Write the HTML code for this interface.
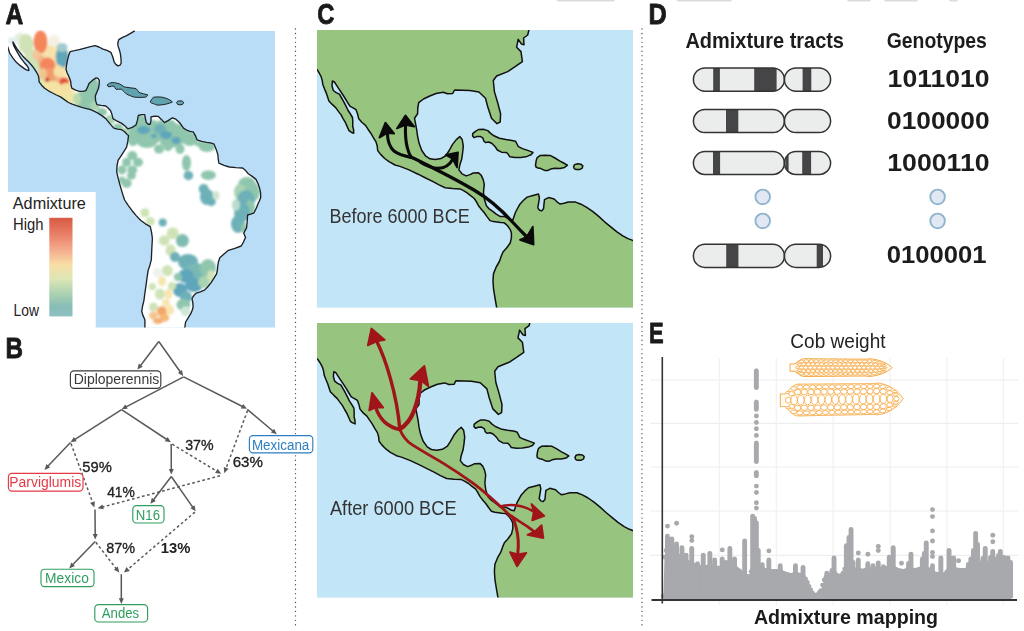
<!DOCTYPE html>
<html><head><meta charset="utf-8"><title>Figure</title>
<style>
html,body{margin:0;padding:0;background:#fff;-webkit-font-smoothing:antialiased;}
body{width:1024px;height:631px;overflow:hidden;font-family:"Liberation Sans",sans-serif;}
svg{display:block;}
text{font-family:"Liberation Sans",sans-serif;}
</style></head><body>
<svg width="1024" height="631" viewBox="0 0 1024 631">
<rect x="0" y="0" width="1024" height="631" fill="#ffffff"/>
<g opacity="0.9999">
<!-- p_frames -->
<rect x="556.5" y="-3" width="58.5" height="4.6" rx="2.5" fill="#d9dbdc"/>
<rect x="676.5" y="-3" width="55.5" height="4.6" rx="2.5" fill="#d9dbdc"/>
<rect x="847.0" y="-3" width="24.0" height="4.6" rx="2.5" fill="#d9dbdc"/>
<rect x="884.0" y="-3" width="34.0" height="4.6" rx="2.5" fill="#d9dbdc"/>
<rect x="949.0" y="-3" width="9.0" height="4.6" rx="2.5" fill="#d9dbdc"/>
<line x1="295.5" y1="29" x2="295.5" y2="625.5" stroke="#4a4a4a" stroke-width="1.35" stroke-linecap="round" stroke-dasharray="0.01 4.436"/>
<line x1="642.0" y1="29" x2="642.0" y2="625.5" stroke="#4a4a4a" stroke-width="1.35" stroke-linecap="round" stroke-dasharray="0.01 4.436"/>
<text transform="translate(5.41,23.80) scale(0.8384,1)" font-size="29.40" font-weight="bold" fill="#1a1a1a" stroke="#1a1a1a" stroke-width="0.85" stroke-linejoin="round">A</text>
<text transform="translate(5.54,358.30) scale(0.8222,1)" font-size="29.40" font-weight="bold" fill="#1a1a1a" stroke="#1a1a1a" stroke-width="0.85" stroke-linejoin="round">B</text>
<text transform="translate(317.13,24.20) scale(0.8083,1)" font-size="29.40" font-weight="bold" fill="#1a1a1a" stroke="#1a1a1a" stroke-width="0.85" stroke-linejoin="round">C</text>
<text transform="translate(648.56,24.10) scale(0.8619,1)" font-size="29.40" font-weight="bold" fill="#1a1a1a" stroke="#1a1a1a" stroke-width="0.85" stroke-linejoin="round">D</text>
<text transform="translate(648.98,343.20) scale(0.7470,1)" font-size="29.40" font-weight="bold" fill="#1a1a1a" stroke="#1a1a1a" stroke-width="0.85" stroke-linejoin="round">E</text>

<!-- p_a -->
<defs><clipPath id="ca"><rect x="8" y="25" width="267" height="302.5"/></clipPath>
<clipPath id="cland"><path d="M7.0,30.0 L134.7,30.0 L134.7,30.9 L130.5,33.4 L126.7,35.6 L122.6,37.4 L118.8,39.6 L117.8,42.8 L118.0,45.9 L119.4,50.0 L120.4,53.9 L121.0,58.6 L121.2,63.0 L120.0,65.2 L118.0,65.9 L115.8,64.4 L114.1,61.8 L112.8,57.0 L110.9,52.3 L107.0,50.4 L103.0,49.1 L99.0,47.0 L95.0,45.6 L89.5,46.8 L84.0,48.3 L79.2,49.6 L74.5,50.7 L70.2,51.6 L68.6,55.6 L67.6,59.7 L66.6,64.5 L66.0,69.2 L67.0,72.5 L68.4,75.5 L69.8,78.8 L70.8,81.9 L71.0,85.2 L71.8,88.2 L75.5,90.2 L79.5,91.4 L82.8,91.4 L85.8,90.6 L87.6,87.0 L89.0,83.5 L92.4,80.4 L96.1,77.9 L98.0,78.4 L99.3,80.3 L99.2,84.2 L98.5,88.2 L96.8,92.2 L95.3,96.1 L95.6,100.6 L96.9,104.6 L101.0,105.4 L105.8,106.0 L108.4,108.2 L110.6,110.7 L112.0,114.6 L113.0,118.6 L117.2,121.2 L121.7,123.4 L125.0,126.0 L128.0,128.9 L132.2,127.4 L136.0,125.0 L137.4,120.4 L138.3,115.5 L141.5,114.6 L144.7,114.7 L145.4,118.6 L146.3,122.6 L148.2,124.2 L150.2,124.2 L151.0,120.6 L151.0,117.0 L154.5,116.2 L158.1,116.3 L161.4,119.4 L164.5,122.6 L168.5,120.4 L172.4,117.8 L175.8,119.2 L178.7,121.8 L181.2,124.8 L183.5,128.1 L186.8,130.2 L190.0,131.3 L193.2,131.8 L195.4,135.6 L197.0,139.8 L201.6,141.4 L206.5,142.3 L210.4,142.8 L214.1,144.2 L216.2,149.4 L217.9,154.7 L218.2,159.0 L218.9,163.2 L224.0,165.4 L229.3,167.0 L236.0,167.6 L242.6,168.0 L245.6,170.6 L248.3,173.7 L252.2,176.4 L256.0,179.4 L258.2,184.0 L259.8,188.9 L260.6,193.2 L260.7,197.5 L259.4,201.0 L258.3,203.0 L256.4,208.0 L254.0,212.8 L250.8,214.2 L247.6,215.0 L247.2,221.4 L246.6,227.8 L245.0,230.6 L243.8,233.2 L245.5,237.4 L243.6,241.8 L241.2,246.0 L234.8,248.4 L228.4,250.3 L224.0,254.0 L219.8,257.8 L218.4,262.0 L217.7,266.3 L217.4,270.0 L216.6,273.8 L214.0,278.2 L211.3,282.4 L208.2,286.2 L204.8,289.9 L200.4,291.8 L196.3,293.1 L193.8,295.6 L192.0,298.4 L192.8,302.6 L193.1,307.0 L192.2,310.2 L190.9,313.4 L188.2,317.8 L185.6,322.0 L184.6,329.0 L144.9,329.0 L144.9,319.8 L143.0,315.6 L141.7,311.3 L142.6,306.0 L143.9,300.6 L144.9,293.0 L146.0,285.6 L147.0,278.0 L148.1,270.6 L149.9,265.2 L151.3,259.9 L151.8,249.0 L152.4,238.5 L151.6,232.6 L150.3,226.7 L145.4,223.8 L140.6,220.3 L136.2,215.6 L132.1,210.7 L128.2,205.4 L124.6,200.0 L122.2,192.6 L120.0,185.1 L118.2,178.4 L116.7,171.8 L117.0,166.0 L118.1,160.4 L122.4,153.8 L126.6,147.1 L127.8,141.4 L128.5,135.6 L127.2,134.5 L124.6,131.8 L121.7,129.7 L117.6,129.2 L113.8,128.1 L109.6,123.4 L105.8,118.6 L101.8,115.6 L97.9,113.1 L94.0,111.2 L90.0,109.4 L87.4,108.8 L81.8,107.4 L76.3,105.7 L72.2,104.2 L68.4,102.5 L64.4,99.6 L60.5,96.9 L56.4,95.0 L52.5,93.0 L48.4,90.8 L44.6,88.2 L41.6,85.2 L39.1,81.9 L38.9,78.6 L38.3,75.5 L36.0,71.4 L33.5,67.6 L31.2,64.8 L28.8,62.1 L25.6,59.0 L22.4,55.7 L19.6,52.2 L16.9,48.6 L14.8,45.2 L12.9,41.9 L13.6,45.4 L15.3,48.6 L18.0,53.4 L20.8,58.1 L24.0,62.2 L27.2,66.0 L28.6,68.4 L28.8,70.5 L26.4,69.8 L24.0,68.4 L20.0,65.4 L16.1,62.1 L12.8,57.8 L9.8,53.4 L8.4,49.0 L7.0,44.6 Z"/><path d="M107.4,84.6 L109.6,83.2 L112.2,82.5 L115.8,82.9 L119.3,83.8 L121.8,85.2 L124.1,86.9 L130.0,87.8 L136.0,88.5 L137.6,90.4 L139.1,92.5 L143.4,93.8 L147.8,94.9 L146.8,96.4 L145.5,97.2 L140.0,97.4 L134.4,97.2 L130.4,95.8 L126.5,94.1 L124.0,91.6 L121.7,89.3 L118.8,89.2 L116.1,89.3 L114.8,87.6 L113.8,86.1 L111.4,86.2 L109.0,86.9 L107.6,86.0 Z"/><path d="M150.2,102.0 L151.6,99.4 L153.4,97.2 L157.8,96.9 L162.1,97.2 L165.8,98.2 L169.2,99.6 L171.0,100.8 L172.4,102.0 L169.4,103.2 L166.1,104.1 L162.0,104.8 L158.1,105.2 L155.6,104.6 L153.4,103.6 L151.4,103.0 Z"/><path d="M176.6,102.8 L177.6,101.2 L180.0,100.8 L182.6,101.2 L183.6,102.8 L182.6,104.4 L180.0,104.9 L177.6,104.4 Z"/></clipPath>
<filter id="bl" x="-20%" y="-20%" width="140%" height="140%"><feGaussianBlur stdDeviation="0.9"/></filter></defs>
<rect x="8" y="31" width="267" height="296.5" fill="#b9ddf6"/>
<g clip-path="url(#ca)">
<path d="M7.0,30.0 L134.7,30.0 L134.7,30.9 L130.5,33.4 L126.7,35.6 L122.6,37.4 L118.8,39.6 L117.8,42.8 L118.0,45.9 L119.4,50.0 L120.4,53.9 L121.0,58.6 L121.2,63.0 L120.0,65.2 L118.0,65.9 L115.8,64.4 L114.1,61.8 L112.8,57.0 L110.9,52.3 L107.0,50.4 L103.0,49.1 L99.0,47.0 L95.0,45.6 L89.5,46.8 L84.0,48.3 L79.2,49.6 L74.5,50.7 L70.2,51.6 L68.6,55.6 L67.6,59.7 L66.6,64.5 L66.0,69.2 L67.0,72.5 L68.4,75.5 L69.8,78.8 L70.8,81.9 L71.0,85.2 L71.8,88.2 L75.5,90.2 L79.5,91.4 L82.8,91.4 L85.8,90.6 L87.6,87.0 L89.0,83.5 L92.4,80.4 L96.1,77.9 L98.0,78.4 L99.3,80.3 L99.2,84.2 L98.5,88.2 L96.8,92.2 L95.3,96.1 L95.6,100.6 L96.9,104.6 L101.0,105.4 L105.8,106.0 L108.4,108.2 L110.6,110.7 L112.0,114.6 L113.0,118.6 L117.2,121.2 L121.7,123.4 L125.0,126.0 L128.0,128.9 L132.2,127.4 L136.0,125.0 L137.4,120.4 L138.3,115.5 L141.5,114.6 L144.7,114.7 L145.4,118.6 L146.3,122.6 L148.2,124.2 L150.2,124.2 L151.0,120.6 L151.0,117.0 L154.5,116.2 L158.1,116.3 L161.4,119.4 L164.5,122.6 L168.5,120.4 L172.4,117.8 L175.8,119.2 L178.7,121.8 L181.2,124.8 L183.5,128.1 L186.8,130.2 L190.0,131.3 L193.2,131.8 L195.4,135.6 L197.0,139.8 L201.6,141.4 L206.5,142.3 L210.4,142.8 L214.1,144.2 L216.2,149.4 L217.9,154.7 L218.2,159.0 L218.9,163.2 L224.0,165.4 L229.3,167.0 L236.0,167.6 L242.6,168.0 L245.6,170.6 L248.3,173.7 L252.2,176.4 L256.0,179.4 L258.2,184.0 L259.8,188.9 L260.6,193.2 L260.7,197.5 L259.4,201.0 L258.3,203.0 L256.4,208.0 L254.0,212.8 L250.8,214.2 L247.6,215.0 L247.2,221.4 L246.6,227.8 L245.0,230.6 L243.8,233.2 L245.5,237.4 L243.6,241.8 L241.2,246.0 L234.8,248.4 L228.4,250.3 L224.0,254.0 L219.8,257.8 L218.4,262.0 L217.7,266.3 L217.4,270.0 L216.6,273.8 L214.0,278.2 L211.3,282.4 L208.2,286.2 L204.8,289.9 L200.4,291.8 L196.3,293.1 L193.8,295.6 L192.0,298.4 L192.8,302.6 L193.1,307.0 L192.2,310.2 L190.9,313.4 L188.2,317.8 L185.6,322.0 L184.6,329.0 L144.9,329.0 L144.9,319.8 L143.0,315.6 L141.7,311.3 L142.6,306.0 L143.9,300.6 L144.9,293.0 L146.0,285.6 L147.0,278.0 L148.1,270.6 L149.9,265.2 L151.3,259.9 L151.8,249.0 L152.4,238.5 L151.6,232.6 L150.3,226.7 L145.4,223.8 L140.6,220.3 L136.2,215.6 L132.1,210.7 L128.2,205.4 L124.6,200.0 L122.2,192.6 L120.0,185.1 L118.2,178.4 L116.7,171.8 L117.0,166.0 L118.1,160.4 L122.4,153.8 L126.6,147.1 L127.8,141.4 L128.5,135.6 L127.2,134.5 L124.6,131.8 L121.7,129.7 L117.6,129.2 L113.8,128.1 L109.6,123.4 L105.8,118.6 L101.8,115.6 L97.9,113.1 L94.0,111.2 L90.0,109.4 L87.4,108.8 L81.8,107.4 L76.3,105.7 L72.2,104.2 L68.4,102.5 L64.4,99.6 L60.5,96.9 L56.4,95.0 L52.5,93.0 L48.4,90.8 L44.6,88.2 L41.6,85.2 L39.1,81.9 L38.9,78.6 L38.3,75.5 L36.0,71.4 L33.5,67.6 L31.2,64.8 L28.8,62.1 L25.6,59.0 L22.4,55.7 L19.6,52.2 L16.9,48.6 L14.8,45.2 L12.9,41.9 L13.6,45.4 L15.3,48.6 L18.0,53.4 L20.8,58.1 L24.0,62.2 L27.2,66.0 L28.6,68.4 L28.8,70.5 L26.4,69.8 L24.0,68.4 L20.0,65.4 L16.1,62.1 L12.8,57.8 L9.8,53.4 L8.4,49.0 L7.0,44.6 Z" fill="#fff"/>
<path d="M107.4,84.6 L109.6,83.2 L112.2,82.5 L115.8,82.9 L119.3,83.8 L121.8,85.2 L124.1,86.9 L130.0,87.8 L136.0,88.5 L137.6,90.4 L139.1,92.5 L143.4,93.8 L147.8,94.9 L146.8,96.4 L145.5,97.2 L140.0,97.4 L134.4,97.2 L130.4,95.8 L126.5,94.1 L124.0,91.6 L121.7,89.3 L118.8,89.2 L116.1,89.3 L114.8,87.6 L113.8,86.1 L111.4,86.2 L109.0,86.9 L107.6,86.0 Z" fill="#fff"/>
<path d="M150.2,102.0 L151.6,99.4 L153.4,97.2 L157.8,96.9 L162.1,97.2 L165.8,98.2 L169.2,99.6 L171.0,100.8 L172.4,102.0 L169.4,103.2 L166.1,104.1 L162.0,104.8 L158.1,105.2 L155.6,104.6 L153.4,103.6 L151.4,103.0 Z" fill="#fff"/>
<path d="M176.6,102.8 L177.6,101.2 L180.0,100.8 L182.6,101.2 L183.6,102.8 L182.6,104.4 L180.0,104.9 L177.6,104.4 Z" fill="#fff"/>
<path d="M107.4,84.6 L109.6,83.2 L112.2,82.5 L115.8,82.9 L119.3,83.8 L121.8,85.2 L124.1,86.9 L130.0,87.8 L136.0,88.5 L137.6,90.4 L139.1,92.5 L143.4,93.8 L147.8,94.9 L146.8,96.4 L145.5,97.2 L140.0,97.4 L134.4,97.2 L130.4,95.8 L126.5,94.1 L124.0,91.6 L121.7,89.3 L118.8,89.2 L116.1,89.3 L114.8,87.6 L113.8,86.1 L111.4,86.2 L109.0,86.9 L107.6,86.0 Z" fill="#5fa3b0"/><path d="M150.2,102.0 L151.6,99.4 L153.4,97.2 L157.8,96.9 L162.1,97.2 L165.8,98.2 L169.2,99.6 L171.0,100.8 L172.4,102.0 L169.4,103.2 L166.1,104.1 L162.0,104.8 L158.1,105.2 L155.6,104.6 L153.4,103.6 L151.4,103.0 Z" fill="#5fa3b0"/><path d="M176.6,102.8 L177.6,101.2 L180.0,100.8 L182.6,101.2 L183.6,102.8 L182.6,104.4 L180.0,104.9 L177.6,104.4 Z" fill="#64a6b2"/>
<g clip-path="url(#cland)"><g filter="url(#bl)">
<ellipse cx="56.0" cy="76.0" rx="21.0" ry="30.0" fill="#f7e5b0"/>
<ellipse cx="46.0" cy="52.0" rx="10.0" ry="8.0" fill="#f7e9c4"/>
<ellipse cx="13.0" cy="41.0" rx="6.0" ry="4.0" fill="#e6efef"/>
<ellipse cx="20.0" cy="37.0" rx="5.0" ry="4.0" fill="#e4eedd"/>
<ellipse cx="26.0" cy="44.0" rx="7.5" ry="10.0" fill="#cfe3b6"/>
<ellipse cx="30.5" cy="56.0" rx="6.0" ry="8.0" fill="#cfe3b6"/>
<ellipse cx="35.0" cy="65.0" rx="5.0" ry="7.0" fill="#cfe3b6"/>
<ellipse cx="39.5" cy="74.0" rx="4.0" ry="6.0" fill="#cfe3b6"/>
<ellipse cx="42.0" cy="82.0" rx="3.5" ry="4.0" fill="#dfe6b0"/>
<ellipse cx="54.0" cy="41.0" rx="6.0" ry="6.0" fill="#f6f0e4"/>
<ellipse cx="49.5" cy="56.0" rx="7.5" ry="10.5" fill="#f8e2ab"/>
<ellipse cx="40.5" cy="42.0" rx="7.0" ry="11.5" fill="#f4865c"/>
<ellipse cx="36.2" cy="55.0" rx="4.2" ry="4.5" fill="#f2c79b"/>
<ellipse cx="41.0" cy="60.0" rx="4.0" ry="5.0" fill="#f0b98c"/>
<ellipse cx="62.0" cy="57.0" rx="6.3" ry="11.0" fill="#5fa6bb"/>
<ellipse cx="62.0" cy="47.5" rx="5.5" ry="4.5" fill="#a3cbd0"/>
<ellipse cx="47.5" cy="66.0" rx="8.0" ry="8.5" fill="#f4865c"/>
<ellipse cx="50.5" cy="73.5" rx="6.0" ry="6.0" fill="#f39a6c"/>
<ellipse cx="43.0" cy="74.0" rx="4.0" ry="6.0" fill="#f1c58f"/>
<ellipse cx="58.5" cy="71.5" rx="5.0" ry="6.5" fill="#f8dfa6"/>
<ellipse cx="63.6" cy="81.4" rx="5.4" ry="3.8" fill="#e4573b"/>
<ellipse cx="47.8" cy="80.0" rx="2.8" ry="2.5" fill="#c9472f"/>
<ellipse cx="56.0" cy="80.0" rx="4.0" ry="4.0" fill="#f3b583"/>
<ellipse cx="52.0" cy="79.0" rx="3.0" ry="3.0" fill="#f0a070"/>
<ellipse cx="52.0" cy="88.0" rx="10.0" ry="7.0" fill="#f5e3a4"/>
<ellipse cx="63.0" cy="93.0" rx="9.0" ry="6.5" fill="#f5e3a4"/>
<ellipse cx="72.0" cy="98.0" rx="7.0" ry="6.0" fill="#eee6a9"/>
<ellipse cx="66.0" cy="87.0" rx="5.0" ry="4.0" fill="#f6dfa0"/>
<ellipse cx="83.0" cy="100.0" rx="9.0" ry="9.0" fill="#8fc6ad"/>
<ellipse cx="92.0" cy="90.0" rx="8.0" ry="13.0" fill="#8fc6ad"/>
<ellipse cx="86.0" cy="108.0" rx="7.0" ry="4.0" fill="#8fc6ad"/>
<ellipse cx="95.0" cy="106.0" rx="5.0" ry="5.0" fill="#a9d3b2"/>
<ellipse cx="77.0" cy="99.0" rx="4.0" ry="6.0" fill="#bcd9ae"/>
<ellipse cx="102.0" cy="112.0" rx="5.0" ry="4.0" fill="#8fc6ad"/>
<ellipse cx="110.0" cy="120.0" rx="5.0" ry="5.0" fill="#a9d3b2"/>
<ellipse cx="118.0" cy="127.0" rx="5.0" ry="3.5" fill="#8fc6ad"/>
<ellipse cx="125.0" cy="131.0" rx="4.0" ry="3.0" fill="#a9d3b2"/>
<ellipse cx="140.0" cy="128.0" rx="11.0" ry="13.0" fill="#8fc6ad"/>
<ellipse cx="152.0" cy="132.0" rx="12.0" ry="12.0" fill="#8fc6ad"/>
<ellipse cx="166.0" cy="130.0" rx="13.0" ry="11.0" fill="#8fc6ad"/>
<ellipse cx="180.0" cy="134.0" rx="12.0" ry="10.0" fill="#8fc6ad"/>
<ellipse cx="190.0" cy="139.0" rx="8.0" ry="7.0" fill="#8fc6ad"/>
<ellipse cx="133.0" cy="138.0" rx="6.0" ry="8.0" fill="#8fc6ad"/>
<ellipse cx="147.0" cy="142.0" rx="10.0" ry="6.0" fill="#8fc6ad"/>
<ellipse cx="170.0" cy="142.0" rx="10.0" ry="6.0" fill="#8fc6ad"/>
<ellipse cx="143.7" cy="130.0" rx="6.6" ry="4.0" fill="#5fa6bb"/>
<ellipse cx="160.0" cy="129.0" rx="6.0" ry="5.0" fill="#6db0b8"/>
<ellipse cx="166.0" cy="135.0" rx="6.0" ry="4.0" fill="#5fa6bb"/>
<ellipse cx="176.0" cy="140.4" rx="4.5" ry="3.5" fill="#5fa6bb"/>
<ellipse cx="154.0" cy="136.0" rx="3.0" ry="2.0" fill="#5fa6bb"/>
<ellipse cx="159.0" cy="149.0" rx="5.0" ry="4.5" fill="#8fc6ad"/>
<ellipse cx="168.0" cy="147.0" rx="4.0" ry="4.0" fill="#8fc6ad"/>
<ellipse cx="180.0" cy="149.0" rx="4.5" ry="5.0" fill="#8fc6ad"/>
<ellipse cx="207.0" cy="147.0" rx="8.0" ry="5.0" fill="#8fc6ad"/>
<ellipse cx="200.0" cy="144.0" rx="5.0" ry="3.0" fill="#8fc6ad"/>
<ellipse cx="186.5" cy="163.0" rx="4.5" ry="8.0" fill="#8fc6ad"/>
<ellipse cx="188.4" cy="175.6" rx="4.8" ry="4.6" fill="#6db0b8"/>
<ellipse cx="208.4" cy="175.2" rx="7.5" ry="4.8" fill="#8fc6ad"/>
<ellipse cx="132.3" cy="155.6" rx="5.0" ry="4.5" fill="#8fc6ad"/>
<ellipse cx="126.6" cy="162.3" rx="4.5" ry="4.5" fill="#8fc6ad"/>
<ellipse cx="138.0" cy="162.3" rx="5.0" ry="4.5" fill="#8fc6ad"/>
<ellipse cx="132.3" cy="169.9" rx="5.0" ry="4.5" fill="#8fc6ad"/>
<ellipse cx="121.9" cy="169.9" rx="4.5" ry="4.5" fill="#8fc6ad"/>
<ellipse cx="131.4" cy="175.6" rx="4.5" ry="4.0" fill="#8fc6ad"/>
<ellipse cx="126.6" cy="183.2" rx="5.0" ry="4.5" fill="#8fc6ad"/>
<ellipse cx="122.0" cy="180.0" rx="3.5" ry="3.5" fill="#8fc6ad"/>
<ellipse cx="203.7" cy="189.0" rx="5.0" ry="5.0" fill="#6db0b8"/>
<ellipse cx="207.0" cy="197.0" rx="7.0" ry="8.0" fill="#6db0b8"/>
<ellipse cx="216.0" cy="195.5" rx="3.5" ry="4.5" fill="#cfe6d4"/>
<ellipse cx="247.0" cy="185.0" rx="9.0" ry="8.0" fill="#8fc6ad"/>
<ellipse cx="252.0" cy="192.0" rx="8.0" ry="10.0" fill="#8fc6ad"/>
<ellipse cx="240.0" cy="192.0" rx="6.0" ry="8.0" fill="#a9d3b2"/>
<ellipse cx="246.0" cy="200.0" rx="9.0" ry="10.0" fill="#6db0b8"/>
<ellipse cx="250.0" cy="208.0" rx="5.0" ry="8.0" fill="#8fc6ad"/>
<ellipse cx="242.0" cy="212.0" rx="8.0" ry="10.0" fill="#6db0b8"/>
<ellipse cx="238.0" cy="224.0" rx="7.0" ry="9.0" fill="#6db0b8"/>
<ellipse cx="244.0" cy="228.0" rx="3.0" ry="5.0" fill="#8fc6ad"/>
<ellipse cx="236.0" cy="205.0" rx="4.0" ry="6.0" fill="#b9dccb"/>
<ellipse cx="211.3" cy="202.0" rx="4.5" ry="4.0" fill="#6db0b8"/>
<ellipse cx="144.9" cy="212.8" rx="4.5" ry="4.5" fill="#cfe3b6"/>
<ellipse cx="150.3" cy="221.4" rx="4.5" ry="4.5" fill="#cfe3b6"/>
<ellipse cx="162.7" cy="222.5" rx="4.0" ry="4.0" fill="#6db0b8"/>
<ellipse cx="172.7" cy="233.2" rx="6.0" ry="6.0" fill="#cfe3b6"/>
<ellipse cx="164.2" cy="240.6" rx="5.5" ry="5.0" fill="#cfe3b6"/>
<ellipse cx="182.4" cy="240.6" rx="6.5" ry="6.5" fill="#7fbcb0"/>
<ellipse cx="170.6" cy="250.3" rx="5.0" ry="6.0" fill="#cfe3b6"/>
<ellipse cx="175.0" cy="257.0" rx="5.0" ry="5.0" fill="#6db0b8"/>
<ellipse cx="188.0" cy="262.0" rx="10.0" ry="8.0" fill="#6db0b8"/>
<ellipse cx="196.0" cy="272.0" rx="11.0" ry="9.0" fill="#79b9b4"/>
<ellipse cx="208.0" cy="268.0" rx="8.0" ry="9.0" fill="#8fc6ad"/>
<ellipse cx="186.0" cy="276.0" rx="8.0" ry="7.0" fill="#5fa6bb"/>
<ellipse cx="194.0" cy="285.0" rx="9.0" ry="7.0" fill="#5fa6bb"/>
<ellipse cx="180.0" cy="290.0" rx="7.0" ry="7.0" fill="#5fa6bb"/>
<ellipse cx="204.0" cy="282.0" rx="6.0" ry="6.0" fill="#a9d3b2"/>
<ellipse cx="186.0" cy="297.0" rx="6.0" ry="6.0" fill="#6db0b8"/>
<ellipse cx="211.0" cy="276.0" rx="4.0" ry="6.0" fill="#cfe3b6"/>
<ellipse cx="178.0" cy="277.0" rx="4.0" ry="4.0" fill="#8fc6ad"/>
<ellipse cx="183.4" cy="304.8" rx="7.0" ry="6.0" fill="#8fc6ad"/>
<ellipse cx="185.6" cy="311.3" rx="5.0" ry="5.0" fill="#cfe6d8"/>
<ellipse cx="167.4" cy="270.6" rx="5.5" ry="5.5" fill="#cfe3b6"/>
<ellipse cx="157.8" cy="272.7" rx="5.0" ry="5.0" fill="#eef3ee"/>
<ellipse cx="162.0" cy="281.3" rx="4.0" ry="5.0" fill="#f6e6b0"/>
<ellipse cx="152.4" cy="286.6" rx="3.6" ry="3.6" fill="#cfe3b6"/>
<ellipse cx="159.9" cy="294.1" rx="5.0" ry="5.5" fill="#cfe3b6"/>
<ellipse cx="168.5" cy="294.1" rx="4.0" ry="5.0" fill="#f6e6b0"/>
<ellipse cx="172.0" cy="286.0" rx="4.0" ry="4.0" fill="#cfe3b6"/>
<ellipse cx="153.5" cy="307.0" rx="4.5" ry="4.5" fill="#cfe3b6"/>
<ellipse cx="162.0" cy="311.3" rx="5.0" ry="5.0" fill="#f3a66a"/>
<ellipse cx="164.2" cy="317.7" rx="5.0" ry="4.0" fill="#f5b877"/>
<ellipse cx="153.5" cy="315.5" rx="4.5" ry="4.0" fill="#f5c48d"/>
<ellipse cx="158.0" cy="321.0" rx="5.0" ry="3.0" fill="#f3b176"/>
<ellipse cx="170.0" cy="310.0" rx="4.0" ry="5.0" fill="#f6e6b0"/>
<ellipse cx="166.0" cy="303.0" rx="4.0" ry="4.0" fill="#f6e6b0"/>
</g></g>
<g fill="none" stroke="#1d2226" stroke-width="1.35" stroke-linejoin="round">
<path d="M134.7,30.9 L130.5,33.4 L126.7,35.6 L122.6,37.4 L118.8,39.6 L117.8,42.8 L118.0,45.9 L119.4,50.0 L120.4,53.9 L121.0,58.6 L121.2,63.0 L120.0,65.2 L118.0,65.9 L115.8,64.4 L114.1,61.8 L112.8,57.0 L110.9,52.3 L107.0,50.4 L103.0,49.1 L99.0,47.0 L95.0,45.6 L89.5,46.8 L84.0,48.3 L79.2,49.6 L74.5,50.7 L70.2,51.6 L68.6,55.6 L67.6,59.7 L66.6,64.5 L66.0,69.2 L67.0,72.5 L68.4,75.5 L69.8,78.8 L70.8,81.9 L71.0,85.2 L71.8,88.2 L75.5,90.2 L79.5,91.4 L82.8,91.4 L85.8,90.6 L87.6,87.0 L89.0,83.5 L92.4,80.4 L96.1,77.9 L98.0,78.4 L99.3,80.3 L99.2,84.2 L98.5,88.2 L96.8,92.2 L95.3,96.1 L95.6,100.6 L96.9,104.6 L101.0,105.4 L105.8,106.0 L108.4,108.2 L110.6,110.7 L112.0,114.6 L113.0,118.6 L117.2,121.2 L121.7,123.4 L125.0,126.0 L128.0,128.9 L132.2,127.4 L136.0,125.0 L137.4,120.4 L138.3,115.5 L141.5,114.6 L144.7,114.7 L145.4,118.6 L146.3,122.6 L148.2,124.2 L150.2,124.2 L151.0,120.6 L151.0,117.0 L154.5,116.2 L158.1,116.3 L161.4,119.4 L164.5,122.6 L168.5,120.4 L172.4,117.8 L175.8,119.2 L178.7,121.8 L181.2,124.8 L183.5,128.1 L186.8,130.2 L190.0,131.3 L193.2,131.8 L195.4,135.6 L197.0,139.8 L201.6,141.4 L206.5,142.3 L210.4,142.8 L214.1,144.2 L216.2,149.4 L217.9,154.7 L218.2,159.0 L218.9,163.2 L224.0,165.4 L229.3,167.0 L236.0,167.6 L242.6,168.0 L245.6,170.6 L248.3,173.7 L252.2,176.4 L256.0,179.4 L258.2,184.0 L259.8,188.9 L260.6,193.2 L260.7,197.5 L259.4,201.0 L258.3,203.0 L256.4,208.0 L254.0,212.8 L250.8,214.2 L247.6,215.0 L247.2,221.4 L246.6,227.8 L245.0,230.6 L243.8,233.2 L245.5,237.4 L243.6,241.8 L241.2,246.0 L234.8,248.4 L228.4,250.3 L224.0,254.0 L219.8,257.8 L218.4,262.0 L217.7,266.3 L217.4,270.0 L216.6,273.8 L214.0,278.2 L211.3,282.4 L208.2,286.2 L204.8,289.9 L200.4,291.8 L196.3,293.1 L193.8,295.6 L192.0,298.4 L192.8,302.6 L193.1,307.0 L192.2,310.2 L190.9,313.4 L188.2,317.8 L185.6,322.0 L184.6,329.0"/>
<path d="M144.9,329.0 L144.9,319.8 L143.0,315.6 L141.7,311.3 L142.6,306.0 L143.9,300.6 L144.9,293.0 L146.0,285.6 L147.0,278.0 L148.1,270.6 L149.9,265.2 L151.3,259.9 L151.8,249.0 L152.4,238.5 L151.6,232.6 L150.3,226.7 L145.4,223.8 L140.6,220.3 L136.2,215.6 L132.1,210.7 L128.2,205.4 L124.6,200.0 L122.2,192.6 L120.0,185.1 L118.2,178.4 L116.7,171.8 L117.0,166.0 L118.1,160.4 L122.4,153.8 L126.6,147.1 L127.8,141.4 L128.5,135.6 L127.2,134.5 L124.6,131.8 L121.7,129.7 L117.6,129.2 L113.8,128.1 L109.6,123.4 L105.8,118.6 L101.8,115.6 L97.9,113.1 L94.0,111.2 L90.0,109.4 L87.4,108.8 L81.8,107.4 L76.3,105.7 L72.2,104.2 L68.4,102.5 L64.4,99.6 L60.5,96.9 L56.4,95.0 L52.5,93.0 L48.4,90.8 L44.6,88.2 L41.6,85.2 L39.1,81.9 L38.9,78.6 L38.3,75.5 L36.0,71.4 L33.5,67.6 L31.2,64.8 L28.8,62.1 L25.6,59.0 L22.4,55.7 L19.6,52.2 L16.9,48.6 L14.8,45.2 L12.9,41.9 L13.6,45.4 L15.3,48.6 L18.0,53.4 L20.8,58.1 L24.0,62.2 L27.2,66.0 L28.6,68.4 L28.8,70.5 L26.4,69.8 L24.0,68.4 L20.0,65.4 L16.1,62.1 L12.8,57.8 L9.8,53.4 L8.4,49.0 L7.0,44.6"/>
<path d="M107.4,84.6 L109.6,83.2 L112.2,82.5 L115.8,82.9 L119.3,83.8 L121.8,85.2 L124.1,86.9 L130.0,87.8 L136.0,88.5 L137.6,90.4 L139.1,92.5 L143.4,93.8 L147.8,94.9 L146.8,96.4 L145.5,97.2 L140.0,97.4 L134.4,97.2 L130.4,95.8 L126.5,94.1 L124.0,91.6 L121.7,89.3 L118.8,89.2 L116.1,89.3 L114.8,87.6 L113.8,86.1 L111.4,86.2 L109.0,86.9 L107.6,86.0 Z" stroke-width="1.0"/>
<path d="M150.2,102.0 L151.6,99.4 L153.4,97.2 L157.8,96.9 L162.1,97.2 L165.8,98.2 L169.2,99.6 L171.0,100.8 L172.4,102.0 L169.4,103.2 L166.1,104.1 L162.0,104.8 L158.1,105.2 L155.6,104.6 L153.4,103.6 L151.4,103.0 Z" stroke-width="1.0"/>
<path d="M176.6,102.8 L177.6,101.2 L180.0,100.8 L182.6,101.2 L183.6,102.8 L182.6,104.4 L180.0,104.9 L177.6,104.4 Z" stroke-width="1.0"/>
</g></g>
<rect x="0" y="192" width="95.7" height="136" fill="#fff"/>
<defs><linearGradient id="lg" x1="0" y1="0" x2="0" y2="1">
<stop offset="0" stop-color="#d85a43"/><stop offset="0.18" stop-color="#ea826a"/><stop offset="0.32" stop-color="#f4aa8c"/>
<stop offset="0.48" stop-color="#f7dfa6"/><stop offset="0.62" stop-color="#dde6b6"/><stop offset="0.78" stop-color="#a9d0b2"/>
<stop offset="0.9" stop-color="#86bdb6"/><stop offset="1" stop-color="#8fc0c2"/></linearGradient></defs>
<rect x="49.3" y="217.8" width="23.2" height="98.6" fill="url(#lg)"/>
<text transform="translate(12.80,208.60) scale(0.9551,1)" font-size="17.00" font-weight="normal" fill="#222" >Admixture</text>
<text transform="translate(13.07,229.90) scale(0.8712,1)" font-size="17.00" font-weight="normal" fill="#222" >High</text>
<text transform="translate(13.54,315.60) scale(0.8133,1)" font-size="17.00" font-weight="normal" fill="#222" >Low</text>

<!-- p_b -->
<line x1="158.8" y1="341.5" x2="139.8" y2="366.5" stroke="#58595b" stroke-width="1.5"/>
<path d="M137.4,369.6 L138.8,363.6 L142.8,366.7 Z" fill="#58595b"/>
<line x1="158.8" y1="341.5" x2="180.9" y2="372.8" stroke="#58595b" stroke-width="1.5"/>
<path d="M183.2,376.0 L177.9,372.9 L182.0,370.0 Z" fill="#58595b"/>
<line x1="183.6" y1="376.8" x2="125.1" y2="407.4" stroke="#58595b" stroke-width="1.5"/>
<path d="M121.6,409.2 L125.4,404.4 L127.7,408.8 Z" fill="#58595b"/>
<line x1="183.6" y1="376.8" x2="243.5" y2="407.0" stroke="#58595b" stroke-width="1.5"/>
<path d="M247.0,408.8 L240.9,408.5 L243.1,404.0 Z" fill="#58595b"/>
<line x1="247.3" y1="409.4" x2="273.8" y2="431.7" stroke="#58595b" stroke-width="1.5"/>
<path d="M276.8,434.2 L270.9,432.5 L274.1,428.7 Z" fill="#58595b"/>
<line x1="121.6" y1="409.6" x2="73.8" y2="440.1" stroke="#58595b" stroke-width="1.5"/>
<path d="M70.5,442.2 L73.9,437.1 L76.6,441.3 Z" fill="#58595b"/>
<line x1="121.6" y1="409.6" x2="167.6" y2="440.0" stroke="#58595b" stroke-width="1.5"/>
<path d="M170.9,442.2 L164.8,441.2 L167.6,437.0 Z" fill="#58595b"/>
<line x1="70.5" y1="442.6" x2="47.1" y2="467.1" stroke="#58595b" stroke-width="1.5"/>
<path d="M44.4,469.9 L46.5,464.1 L50.1,467.6 Z" fill="#58595b"/>
<line x1="71.0" y1="443.6" x2="93.1" y2="503.7" stroke="#58595b" stroke-width="1.5" stroke-dasharray="2.7 2.5"/>
<path d="M94.4,507.4 L90.1,503.0 L94.8,501.3 Z" fill="#58595b"/>
<line x1="171.2" y1="444.0" x2="171.3" y2="470.7" stroke="#58595b" stroke-width="1.5"/>
<path d="M171.3,474.6 L168.8,469.0 L173.8,469.0 Z" fill="#58595b"/>
<line x1="172.2" y1="444.2" x2="217.8" y2="471.8" stroke="#58595b" stroke-width="1.5" stroke-dasharray="2.7 2.5"/>
<path d="M221.2,473.8 L215.1,473.0 L217.7,468.8 Z" fill="#58595b"/>
<line x1="247.5" y1="410.6" x2="225.6" y2="469.5" stroke="#58595b" stroke-width="1.5" stroke-dasharray="2.7 2.5"/>
<path d="M224.2,473.2 L223.8,467.1 L228.5,468.8 Z" fill="#58595b"/>
<line x1="220.0" y1="475.8" x2="101.4" y2="507.3" stroke="#58595b" stroke-width="1.5" stroke-dasharray="2.7 2.5"/>
<path d="M97.6,508.3 L102.4,504.4 L103.7,509.3 Z" fill="#58595b"/>
<line x1="171.3" y1="476.5" x2="152.8" y2="500.7" stroke="#58595b" stroke-width="1.5"/>
<path d="M150.4,503.8 L151.8,497.8 L155.8,500.9 Z" fill="#58595b"/>
<line x1="171.3" y1="476.5" x2="193.4" y2="508.1" stroke="#58595b" stroke-width="1.5"/>
<path d="M195.7,511.3 L190.4,508.2 L194.5,505.3 Z" fill="#58595b"/>
<line x1="95.0" y1="509.6" x2="95.2" y2="535.6" stroke="#58595b" stroke-width="1.5"/>
<path d="M95.2,539.5 L92.7,533.9 L97.7,533.9 Z" fill="#58595b"/>
<line x1="95.2" y1="541.5" x2="71.9" y2="565.6" stroke="#58595b" stroke-width="1.5"/>
<path d="M69.2,568.4 L71.3,562.6 L74.9,566.1 Z" fill="#58595b"/>
<line x1="95.8" y1="542.3" x2="116.9" y2="569.5" stroke="#58595b" stroke-width="1.5" stroke-dasharray="2.7 2.5"/>
<path d="M119.3,572.6 L113.9,569.7 L117.8,566.6 Z" fill="#58595b"/>
<line x1="194.9" y1="512.1" x2="126.9" y2="570.1" stroke="#58595b" stroke-width="1.5" stroke-dasharray="2.7 2.5"/>
<path d="M123.9,572.6 L126.5,567.1 L129.8,570.9 Z" fill="#58595b"/>
<line x1="121.3" y1="574.2" x2="121.3" y2="600.0" stroke="#58595b" stroke-width="1.5"/>
<path d="M121.3,603.9 L118.8,598.3 L123.8,598.3 Z" fill="#58595b"/>
<rect x="70.4" y="370.8" width="90.4" height="17.6" rx="3.6" fill="#fff" stroke="#3a3a3a" stroke-width="1.15"/>
<text transform="translate(73.69,384.00) scale(0.9211,1)" font-size="15.20" font-weight="normal" fill="#3a3a3a" >Diploperennis</text>
<rect x="249.4" y="435.6" width="63.4" height="17.2" rx="3.6" fill="#fff" stroke="#2e7fc1" stroke-width="1.15"/>
<text transform="translate(251.94,449.60) scale(0.8826,1)" font-size="15.20" font-weight="normal" fill="#2e7fc1" >Mexicana</text>
<rect x="8.4" y="473.4" width="74.6" height="17.8" rx="3.6" fill="#fff" stroke="#e63946" stroke-width="1.15"/>
<text transform="translate(9.30,487.00) scale(0.9155,1)" font-size="15.20" font-weight="normal" fill="#e63946" >Parviglumis</text>
<rect x="132.8" y="505.6" width="31.2" height="17.4" rx="3.6" fill="#fff" stroke="#2f9e5f" stroke-width="1.15"/>
<text transform="translate(135.76,519.60) scale(0.8692,1)" font-size="15.20" font-weight="normal" fill="#2f9e5f" >N16</text>
<rect x="41.0" y="569.2" width="53.0" height="17.4" rx="3.6" fill="#fff" stroke="#2f9e5f" stroke-width="1.15"/>
<text transform="translate(45.11,582.90) scale(0.9095,1)" font-size="15.20" font-weight="normal" fill="#2f9e5f" >Mexico</text>
<rect x="94.8" y="604.6" width="52.8" height="17.4" rx="3.6" fill="#fff" stroke="#2f9e5f" stroke-width="1.15"/>
<text transform="translate(101.80,618.30) scale(0.8685,1)" font-size="15.20" font-weight="normal" fill="#2f9e5f" >Andes</text>
<text transform="translate(185.14,450.20) scale(0.9195,1)" font-size="15.40" font-weight="normal" fill="#222" stroke="#222" stroke-width="0.35">37%</text>
<text transform="translate(232.71,467.00) scale(0.9797,1)" font-size="15.40" font-weight="normal" fill="#222" stroke="#222" stroke-width="0.35">63%</text>
<text transform="translate(82.33,472.00) scale(0.9562,1)" font-size="15.40" font-weight="normal" fill="#222" stroke="#222" stroke-width="0.35">59%</text>
<text transform="translate(107.13,496.90) scale(0.9000,1)" font-size="15.40" font-weight="normal" fill="#222" stroke="#222" stroke-width="0.35">41%</text>
<text transform="translate(106.24,552.50) scale(0.9360,1)" font-size="15.40" font-weight="normal" fill="#222" stroke="#222" stroke-width="0.35">87%</text>
<text transform="translate(160.73,552.50) scale(0.9627,1)" font-size="15.40" font-weight="bold" fill="#222" >13%</text>

<!-- p_c -->
<defs><clipPath id="cc1"><rect x="317" y="30.0" width="316" height="277.6"/></clipPath></defs>
<rect x="317" y="30.0" width="316" height="277.6" fill="#c3e5f8"/>
<g clip-path="url(#cc1)"><g transform="translate(0.0,0.0)" fill="#97c47e" stroke="#111" stroke-width="1.5" stroke-linejoin="round">
<path d="M308.0,24.0 L528.8,24.0 L528.8,30.5 L527.7,35.0 L523.6,38.0 L524.0,44.8 L521.5,44.0 L518.2,39.4 L516.6,47.2 L521.0,51.6 L522.4,61.6 L514.4,67.2 L507.7,71.6 L496.6,76.0 L493.3,80.5 L494.4,91.6 L497.7,102.7 L500.6,113.8 L500.2,122.0 L497.0,123.7 L491.5,118.2 L487.8,107.1 L485.5,98.2 L478.9,92.0 L470.0,90.6 L454.6,90.0 L452.6,93.6 L447.5,93.8 L443.2,92.2 L436.0,93.5 L429.8,96.0 L423.5,99.0 L418.7,102.7 L417.8,108.0 L417.6,113.8 L414.5,118.2 L415.6,124.0 L416.8,130.3 L417.6,136.5 L419.2,143.6 L421.8,150.5 L425.8,156.2 L430.0,158.8 L435.3,159.6 L441.0,158.6 L446.0,155.5 L449.2,150.5 L452.4,144.6 L456.3,139.6 L459.8,136.6 L462.2,139.5 L463.3,146.1 L462.6,153.0 L461.7,159.1 L459.8,165.0 L458.9,169.9 L462.0,173.8 L466.2,175.9 L470.0,174.6 L473.2,173.0 L478.5,172.7 L481.3,175.4 L483.2,179.6 L484.3,184.3 L483.8,188.8 L483.5,192.8 L484.4,199.2 L486.4,205.7 L489.2,208.9 L492.8,211.4 L496.2,214.2 L500.0,216.4 L504.2,216.4 L507.1,217.8 L510.3,219.6 L512.8,220.0 L515.6,212.0 L519.9,204.2 L523.5,200.2 L527.1,197.1 L533.0,195.5 L538.5,194.0 L539.4,198.0 L538.6,203.2 L537.8,207.8 L539.4,210.2 L541.8,210.9 L543.6,208.5 L544.0,203.8 L544.5,199.6 L548.5,197.6 L554.2,199.0 L557.0,201.8 L559.9,204.0 L564.0,203.2 L568.4,202.0 L575.6,202.1 L581.0,204.2 L586.7,207.3 L592.6,211.4 L598.7,216.4 L604.6,221.8 L610.8,226.9 L616.6,231.6 L622.8,235.9 L628.0,238.6 L634.0,240.8 L640.0,243.0 L640.0,316.0 L497.4,316.0 L496.9,309.0 L495.0,298.0 L493.5,288.6 L493.0,280.6 L493.5,273.6 L496.2,267.0 L499.4,261.5 L501.2,256.2 L503.0,252.0 L506.6,248.0 L510.2,243.0 L511.4,237.8 L511.4,232.8 L510.2,229.6 L508.5,227.1 L506.4,224.6 L504.2,222.8 L500.6,222.6 L497.1,222.1 L493.4,221.6 L490.0,220.6 L487.0,216.6 L484.3,212.8 L481.3,209.2 L478.5,205.7 L476.6,202.2 L474.3,198.5 L470.6,195.6 L467.1,192.8 L463.5,190.6 L460.0,188.9 L452.5,188.6 L445.2,187.8 L439.0,184.9 L433.1,181.7 L425.6,178.0 L418.1,174.2 L409.0,169.9 L400.0,166.4 L395.0,165.0 L389.0,161.6 L384.7,158.5 L380.6,154.4 L377.7,150.6 L377.2,146.0 L376.0,141.9 L373.2,137.4 L370.8,133.2 L368.0,129.2 L365.5,125.4 L361.8,122.2 L358.6,118.4 L357.6,114.0 L356.0,109.7 L352.6,107.6 L349.9,106.2 L347.2,101.8 L344.6,97.5 L342.0,93.5 L339.4,89.6 L336.8,85.6 L334.4,82.0 L332.4,81.0 L332.0,85.8 L333.3,90.5 L336.2,92.6 L339.4,94.2 L341.6,98.0 L343.8,101.8 L346.0,106.2 L348.1,110.5 L350.4,114.0 L352.5,117.5 L352.8,122.0 L352.7,126.2 L353.6,129.8 L353.7,133.2 L351.2,132.2 L349.0,130.6 L347.2,126.6 L345.5,122.7 L343.2,118.8 L341.1,114.9 L338.4,111.4 L335.9,107.9 L332.2,104.4 L328.9,101.0 L327.6,97.0 L326.3,93.1 L324.4,88.6 L322.8,84.4 L322.2,80.4 L321.1,76.6 L319.2,73.0 L317.1,69.6 L315.0,67.6 L308.0,64.0 Z"/>
<path d="M472.7,133.7 L475.8,131.2 L478.9,129.4 L483.3,129.2 L487.8,130.6 L490.6,133.4 L494.0,135.8 L499.4,138.2 L506.0,139.6 L512.0,140.4 L515.5,141.2 L517.0,144.0 L518.4,146.6 L522.5,148.6 L527.7,150.4 L533.0,152.4 L531.0,154.8 L527.0,156.4 L521.0,157.4 L515.0,157.6 L509.9,156.8 L508.4,154.6 L506.5,152.6 L501.5,152.2 L497.4,150.0 L495.0,146.5 L492.0,143.5 L488.8,142.0 L485.6,142.6 L483.8,141.0 L483.0,138.2 L480.2,136.4 L476.8,136.6 L474.2,137.6 L472.6,136.0 Z"/>
<path d="M535.5,165.2 L536.2,160.6 L537.2,157.6 L540.0,155.6 L545.0,155.2 L550.6,155.6 L555.0,158.0 L559.6,160.9 L563.6,163.0 L567.4,165.2 L564.6,167.4 L560.0,168.4 L555.0,168.2 L550.6,169.1 L547.6,170.6 L544.5,170.4 L541.0,168.6 L538.0,168.0 L536.0,167.0 Z"/>
<path d="M573.6,166.6 L574.6,164.6 L577.6,163.8 L580.8,164.2 L582.8,165.8 L582.2,168.2 L579.6,169.6 L576.2,169.6 L574.2,168.6 Z"/>
</g></g>
<g fill="none" stroke="#0a0a0a" stroke-linecap="round">
<path d="M387.4,133.5 C387.6,141 389.5,147 394,151 C399,155 405,156.2 411,157.4" stroke-width="3.1"/>
<path d="M405.5,126 C405.2,134 405.8,142 407.4,148 C408.4,152.5 409.6,155 411.6,157.4" stroke-width="3.1"/>
<path d="M410.5,157 C419,160.5 426,164.4 433,168 C447,175 462,183 474,190 C487,197.6 501,209.5 512,221.5 C518,228 522.5,232.6 526.5,236.5" stroke-width="3.3"/>
<path d="M420.5,162.4 C426,166 432,168.2 438,168.2 C445,168.2 450,164.6 452.8,159.0" stroke-width="2.9"/>
</g>
<path d="M385.4,122.6 L379.4,137.6 L387.2,133.0 L394.2,133.6 Z" fill="#0a0a0a" stroke="#0a0a0a" stroke-width="1.8" stroke-linejoin="round"/>
<path d="M405.4,115.4 L396.9,128.4 L405.5,124.8 L414.2,126.5 Z" fill="#0a0a0a" stroke="#0a0a0a" stroke-width="1.8" stroke-linejoin="round"/>
<path d="M458.0,152.3 L445.8,155.0 L452.6,158.8 L457.0,167.4 Z" fill="#0a0a0a" stroke="#0a0a0a" stroke-width="1.8" stroke-linejoin="round"/>
<path d="M533.6,244.6 L520.0,239.8 L526.8,236.8 L532.8,226.6 Z" fill="#0a0a0a" stroke="#0a0a0a" stroke-width="1.8" stroke-linejoin="round"/>
<text transform="translate(329.47,223.10) scale(0.8928,1)" font-size="20.20" font-weight="normal" fill="#333" >Before 6000 BCE</text>
<defs><clipPath id="cc2"><rect x="317" y="323.0" width="316" height="274.6"/></clipPath></defs>
<rect x="317" y="323.0" width="316" height="274.6" fill="#c3e5f8"/>
<g clip-path="url(#cc2)"><g transform="translate(1.4,290.7)" fill="#97c47e" stroke="#111" stroke-width="1.5" stroke-linejoin="round">
<path d="M308.0,24.0 L528.8,24.0 L528.8,30.5 L527.7,35.0 L523.6,38.0 L524.0,44.8 L521.5,44.0 L518.2,39.4 L516.6,47.2 L521.0,51.6 L522.4,61.6 L514.4,67.2 L507.7,71.6 L496.6,76.0 L493.3,80.5 L494.4,91.6 L497.7,102.7 L500.6,113.8 L500.2,122.0 L497.0,123.7 L491.5,118.2 L487.8,107.1 L485.5,98.2 L478.9,92.0 L470.0,90.6 L454.6,90.0 L452.6,93.6 L447.5,93.8 L443.2,92.2 L436.0,93.5 L429.8,96.0 L423.5,99.0 L418.7,102.7 L417.8,108.0 L417.6,113.8 L414.5,118.2 L415.6,124.0 L416.8,130.3 L417.6,136.5 L419.2,143.6 L421.8,150.5 L425.8,156.2 L430.0,158.8 L435.3,159.6 L441.0,158.6 L446.0,155.5 L449.2,150.5 L452.4,144.6 L456.3,139.6 L459.8,136.6 L462.2,139.5 L463.3,146.1 L462.6,153.0 L461.7,159.1 L459.8,165.0 L458.9,169.9 L462.0,173.8 L466.2,175.9 L470.0,174.6 L473.2,173.0 L478.5,172.7 L481.3,175.4 L483.2,179.6 L484.3,184.3 L483.8,188.8 L483.5,192.8 L484.4,199.2 L486.4,205.7 L489.2,208.9 L492.8,211.4 L496.2,214.2 L500.0,216.4 L504.2,216.4 L507.1,217.8 L510.3,219.6 L512.8,220.0 L515.6,212.0 L519.9,204.2 L523.5,200.2 L527.1,197.1 L533.0,195.5 L538.5,194.0 L539.4,198.0 L538.6,203.2 L537.8,207.8 L539.4,210.2 L541.8,210.9 L543.6,208.5 L544.0,203.8 L544.5,199.6 L548.5,197.6 L554.2,199.0 L557.0,201.8 L559.9,204.0 L564.0,203.2 L568.4,202.0 L575.6,202.1 L581.0,204.2 L586.7,207.3 L592.6,211.4 L598.7,216.4 L604.6,221.8 L610.8,226.9 L616.6,231.6 L622.8,235.9 L628.0,238.6 L634.0,240.8 L640.0,243.0 L640.0,316.0 L497.4,316.0 L496.9,309.0 L495.0,298.0 L493.5,288.6 L493.0,280.6 L493.5,273.6 L496.2,267.0 L499.4,261.5 L501.2,256.2 L503.0,252.0 L506.6,248.0 L510.2,243.0 L511.4,237.8 L511.4,232.8 L510.2,229.6 L508.5,227.1 L506.4,224.6 L504.2,222.8 L500.6,222.6 L497.1,222.1 L493.4,221.6 L490.0,220.6 L487.0,216.6 L484.3,212.8 L481.3,209.2 L478.5,205.7 L476.6,202.2 L474.3,198.5 L470.6,195.6 L467.1,192.8 L463.5,190.6 L460.0,188.9 L452.5,188.6 L445.2,187.8 L439.0,184.9 L433.1,181.7 L425.6,178.0 L418.1,174.2 L409.0,169.9 L400.0,166.4 L395.0,165.0 L389.0,161.6 L384.7,158.5 L380.6,154.4 L377.7,150.6 L377.2,146.0 L376.0,141.9 L373.2,137.4 L370.8,133.2 L368.0,129.2 L365.5,125.4 L361.8,122.2 L358.6,118.4 L357.6,114.0 L356.0,109.7 L352.6,107.6 L349.9,106.2 L347.2,101.8 L344.6,97.5 L342.0,93.5 L339.4,89.6 L336.8,85.6 L334.4,82.0 L332.4,81.0 L332.0,85.8 L333.3,90.5 L336.2,92.6 L339.4,94.2 L341.6,98.0 L343.8,101.8 L346.0,106.2 L348.1,110.5 L350.4,114.0 L352.5,117.5 L352.8,122.0 L352.7,126.2 L353.6,129.8 L353.7,133.2 L351.2,132.2 L349.0,130.6 L347.2,126.6 L345.5,122.7 L343.2,118.8 L341.1,114.9 L338.4,111.4 L335.9,107.9 L332.2,104.4 L328.9,101.0 L327.6,97.0 L326.3,93.1 L324.4,88.6 L322.8,84.4 L322.2,80.4 L321.1,76.6 L319.2,73.0 L317.1,69.6 L315.0,67.6 L308.0,64.0 Z"/>
<path d="M472.7,133.7 L475.8,131.2 L478.9,129.4 L483.3,129.2 L487.8,130.6 L490.6,133.4 L494.0,135.8 L499.4,138.2 L506.0,139.6 L512.0,140.4 L515.5,141.2 L517.0,144.0 L518.4,146.6 L522.5,148.6 L527.7,150.4 L533.0,152.4 L531.0,154.8 L527.0,156.4 L521.0,157.4 L515.0,157.6 L509.9,156.8 L508.4,154.6 L506.5,152.6 L501.5,152.2 L497.4,150.0 L495.0,146.5 L492.0,143.5 L488.8,142.0 L485.6,142.6 L483.8,141.0 L483.0,138.2 L480.2,136.4 L476.8,136.6 L474.2,137.6 L472.6,136.0 Z"/>
<path d="M535.5,165.2 L536.2,160.6 L537.2,157.6 L540.0,155.6 L545.0,155.2 L550.6,155.6 L555.0,158.0 L559.6,160.9 L563.6,163.0 L567.4,165.2 L564.6,167.4 L560.0,168.4 L555.0,168.2 L550.6,169.1 L547.6,170.6 L544.5,170.4 L541.0,168.6 L538.0,168.0 L536.0,167.0 Z"/>
<path d="M573.6,166.6 L574.6,164.6 L577.6,163.8 L580.8,164.2 L582.8,165.8 L582.2,168.2 L579.6,169.6 L576.2,169.6 L574.2,168.6 Z"/>
</g></g>
<g fill="none" stroke="#a01519" stroke-linecap="round">
<path d="M376.4,340.6 C386,360 397,395 399.8,429.2" stroke-width="3.4"/>
<path d="M420.4,379.6 C419.8,392 417.5,402 414.0,411 C410.8,419 406,425.4 399.8,429.2" stroke-width="4.3"/>
<path d="M375.8,407.4 C377.5,413 380.5,418 385,422.4 C389.5,426.4 394.5,428.6 399.8,429.4" stroke-width="3.5"/>
<path d="M399.8,429.2 C402.6,436.4 406.8,441.2 412,444.6 C422,451 433,457.2 443.4,463.4 C454,470 463,476 471.9,482.4 C478,486.8 483,491 487.8,495.1 C493,499.6 497.6,503.8 502,507.8 C505,510.6 507.6,513.2 510,515.7" stroke-width="2.8"/>
<path d="M500,506.4 C506,504.6 514,504.6 521,506.2 C526,507.4 530,509.4 533.5,511.4" stroke-width="2.6"/>
<path d="M509,514.6 C515,518.6 521.5,522.6 527.5,526.6 C530,528.4 532.4,530.2 534.4,531.8" stroke-width="2.8"/>
<path d="M512.6,517.0 C515.6,524 517.6,532 518.2,540 C518.5,545 518.2,550 517.8,554" stroke-width="3.0"/>
</g>
<path d="M371.4,328.4 L367.8,345.4 L376.6,341.4 L384.8,339.9 Z" fill="#a01519" stroke="#a01519" stroke-width="1.8" stroke-linejoin="round"/>
<path d="M424.4,366.0 L410.4,378.8 L421.0,380.6 L428.4,386.2 Z" fill="#a01519" stroke="#a01519" stroke-width="1.8" stroke-linejoin="round"/>
<path d="M372.0,392.8 L369.2,410.4 L375.8,407.4 L383.2,407.6 Z" fill="#a01519" stroke="#a01519" stroke-width="1.8" stroke-linejoin="round"/>
<path d="M544.3,515.9 L531.4,504.0 L533.8,511.6 L532.2,520.4 Z" fill="#a01519" stroke="#a01519" stroke-width="1.8" stroke-linejoin="round"/>
<path d="M543.4,538.0 L541.6,525.2 L534.6,531.6 L527.4,534.8 Z" fill="#a01519" stroke="#a01519" stroke-width="1.8" stroke-linejoin="round"/>
<path d="M517.0,566.4 L510.0,552.0 L517.8,554.4 L526.4,552.8 Z" fill="#a01519" stroke="#a01519" stroke-width="1.8" stroke-linejoin="round"/>
<text transform="translate(329.90,515.00) scale(0.9033,1)" font-size="20.20" font-weight="normal" fill="#333" >After 6000 BCE</text>

<!-- p_d -->
<text transform="translate(685.44,47.50) scale(0.9243,1)" font-size="21.60" font-weight="bold" fill="#1c1c1c" >Admixture tracts</text>
<text transform="translate(886.68,47.50) scale(0.8982,1)" font-size="21.60" font-weight="bold" fill="#1c1c1c" >Genotypes</text>
<defs><clipPath id="c67"><rect x="693.4" y="67.9" width="91.0" height="23.3" rx="11.6"/><rect x="784.4" y="67.9" width="46.2" height="23.3" rx="11.6"/></clipPath></defs>
<g clip-path="url(#c67)"><rect x="693.4" y="67.9" width="137.2" height="23.3" fill="#ebecec"/>
<rect x="713.2" y="67.9" width="6.7" height="23.3" fill="#454547"/>
<rect x="754.2" y="67.9" width="22.4" height="23.3" fill="#454547"/>
<rect x="802.6" y="67.9" width="8.7" height="23.3" fill="#454547"/>
</g>
<rect x="693.4" y="67.9" width="91.0" height="23.3" rx="11.6" fill="none" stroke="#333" stroke-width="1.5"/>
<rect x="784.4" y="67.9" width="46.2" height="23.3" rx="11.6" fill="none" stroke="#333" stroke-width="1.5"/>
<defs><clipPath id="c109"><rect x="693.4" y="109.5" width="91.0" height="23.1" rx="11.5"/><rect x="784.4" y="109.5" width="46.2" height="23.1" rx="11.5"/></clipPath></defs>
<g clip-path="url(#c109)"><rect x="693.4" y="109.5" width="137.2" height="23.1" fill="#ebecec"/>
<rect x="726.0" y="109.5" width="12.3" height="23.1" fill="#454547"/>
</g>
<rect x="693.4" y="109.5" width="91.0" height="23.1" rx="11.5" fill="none" stroke="#333" stroke-width="1.5"/>
<rect x="784.4" y="109.5" width="46.2" height="23.1" rx="11.5" fill="none" stroke="#333" stroke-width="1.5"/>
<defs><clipPath id="c151"><rect x="693.4" y="151.6" width="91.0" height="22.9" rx="11.5"/><rect x="784.4" y="151.6" width="46.2" height="22.9" rx="11.5"/></clipPath></defs>
<g clip-path="url(#c151)"><rect x="693.4" y="151.6" width="137.2" height="22.9" fill="#ebecec"/>
<rect x="713.0" y="151.6" width="7.1" height="22.9" fill="#454547"/>
<rect x="785.4" y="151.6" width="3.2" height="22.9" fill="#454547"/>
<rect x="802.2" y="151.6" width="8.9" height="22.9" fill="#454547"/>
</g>
<rect x="693.4" y="151.6" width="91.0" height="22.9" rx="11.5" fill="none" stroke="#333" stroke-width="1.5"/>
<rect x="784.4" y="151.6" width="46.2" height="22.9" rx="11.5" fill="none" stroke="#333" stroke-width="1.5"/>
<defs><clipPath id="c244"><rect x="693.4" y="244.3" width="91.0" height="23.1" rx="11.5"/><rect x="784.4" y="244.3" width="46.2" height="23.1" rx="11.5"/></clipPath></defs>
<g clip-path="url(#c244)"><rect x="693.4" y="244.3" width="137.2" height="23.1" fill="#ebecec"/>
<rect x="726.2" y="244.3" width="12.2" height="23.1" fill="#454547"/>
<rect x="816.7" y="244.3" width="6.3" height="23.1" fill="#454547"/>
</g>
<rect x="693.4" y="244.3" width="91.0" height="23.1" rx="11.5" fill="none" stroke="#333" stroke-width="1.5"/>
<rect x="784.4" y="244.3" width="46.2" height="23.1" rx="11.5" fill="none" stroke="#333" stroke-width="1.5"/>
<circle cx="762.7" cy="196.9" r="7.3" fill="#e2e7f4" stroke="#8fb5cc" stroke-width="1.9"/>
<circle cx="762.7" cy="220.9" r="7.3" fill="#e2e7f4" stroke="#8fb5cc" stroke-width="1.9"/>
<circle cx="937.6" cy="196.9" r="7.3" fill="#e2e7f4" stroke="#8fb5cc" stroke-width="1.9"/>
<circle cx="937.6" cy="220.9" r="7.3" fill="#e2e7f4" stroke="#8fb5cc" stroke-width="1.9"/>
<text transform="translate(887.62,86.80) scale(1.1270,1)" font-size="23.60" font-weight="bold" fill="#1c1c1c" >1011010</text>
<text transform="translate(887.00,129.00) scale(1.1165,1)" font-size="23.60" font-weight="bold" fill="#1c1c1c" >0100000</text>
<text transform="translate(887.22,170.50) scale(1.1315,1)" font-size="23.60" font-weight="bold" fill="#1c1c1c" >1000110</text>
<text transform="translate(886.82,262.90) scale(1.0863,1)" font-size="23.60" font-weight="bold" fill="#1c1c1c" >0100001</text>

<!-- p_e -->
<line x1="650.5" y1="380.0" x2="1018.5" y2="380.0" stroke="#eeeeee" stroke-width="1.2"/>
<line x1="650.5" y1="423.4" x2="1018.5" y2="423.4" stroke="#eeeeee" stroke-width="1.2"/>
<line x1="650.5" y1="467.0" x2="1018.5" y2="467.0" stroke="#eeeeee" stroke-width="1.2"/>
<line x1="650.5" y1="511.0" x2="1018.5" y2="511.0" stroke="#eeeeee" stroke-width="1.2"/>
<line x1="650.5" y1="555.4" x2="1018.5" y2="555.4" stroke="#eeeeee" stroke-width="1.2"/>
<line x1="719.3" y1="358" x2="719.3" y2="605" stroke="#f1f1f1" stroke-width="1.2"/>
<line x1="776.3" y1="358" x2="776.3" y2="605" stroke="#f1f1f1" stroke-width="1.2"/>
<line x1="833.2" y1="358" x2="833.2" y2="605" stroke="#f1f1f1" stroke-width="1.2"/>
<line x1="890.1" y1="358" x2="890.1" y2="605" stroke="#f1f1f1" stroke-width="1.2"/>
<line x1="946.8" y1="358" x2="946.8" y2="605" stroke="#f1f1f1" stroke-width="1.2"/>
<line x1="1003.4" y1="358" x2="1003.4" y2="605" stroke="#f1f1f1" stroke-width="1.2"/>
<text transform="translate(790.33,348.20) scale(0.9722,1)" font-size="19.60" font-weight="normal" fill="#222" >Cob weight</text>
<path d="M790.0,363.9 L791.0,363.9 L792.0,363.9 L793.0,363.9 L794.0,363.9 L795.0,363.9 L796.0,362.9 L797.0,362.1 L798.0,361.3 L799.0,360.7 L800.0,360.1 L801.0,359.6 L802.0,359.2 L803.0,358.9 L804.0,358.8 L805.0,358.7 L806.0,358.7 L807.0,358.7 L808.0,358.7 L809.0,358.7 L810.0,358.7 L811.0,358.7 L812.0,358.8 L813.0,358.8 L814.0,358.8 L815.0,358.8 L816.0,358.8 L817.0,358.8 L818.0,358.8 L819.0,358.8 L820.0,358.8 L821.0,358.8 L822.0,358.8 L823.0,358.8 L824.0,358.9 L825.0,358.9 L826.0,358.9 L827.0,358.9 L828.0,358.9 L829.0,358.9 L830.0,358.9 L831.0,358.9 L832.0,358.9 L833.0,358.9 L834.0,358.9 L835.0,358.9 L836.0,358.9 L837.0,359.0 L838.0,359.0 L839.0,359.0 L840.0,359.0 L841.0,359.0 L842.0,359.0 L843.0,359.0 L844.0,359.0 L845.0,359.0 L846.0,359.0 L847.0,359.0 L848.0,359.0 L849.0,359.1 L850.0,359.1 L851.0,359.1 L852.0,359.1 L853.0,359.1 L854.0,359.1 L855.0,359.1 L856.0,359.1 L857.0,359.1 L858.0,359.1 L859.0,359.1 L860.0,359.1 L861.0,359.1 L862.0,359.2 L863.0,359.2 L864.0,359.2 L865.0,359.2 L866.0,359.2 L867.0,359.2 L868.0,358.7 L869.0,358.8 L870.0,358.8 L871.0,358.9 L872.0,359.0 L873.0,359.2 L874.0,359.3 L875.0,359.5 L876.0,359.7 L877.0,359.9 L878.0,360.2 L879.0,360.5 L880.0,360.8 L881.0,361.1 L882.0,361.5 L883.0,361.9 L884.0,362.4 L885.0,362.8 L886.0,363.3 L887.0,363.9 L888.0,364.5 L889.0,365.2 L890.0,365.9 L891.0,366.8 L892.2,367.6 L891.0,368.4 L890.0,369.3 L889.0,370.0 L888.0,370.7 L887.0,371.3 L886.0,371.9 L885.0,372.4 L884.0,372.8 L883.0,373.3 L882.0,373.7 L881.0,374.1 L880.0,374.4 L879.0,374.7 L878.0,375.0 L877.0,375.3 L876.0,375.5 L875.0,375.7 L874.0,375.9 L873.0,376.0 L872.0,376.2 L871.0,376.3 L870.0,376.4 L869.0,376.4 L868.0,376.5 L867.0,376.0 L866.0,376.0 L865.0,376.0 L864.0,376.0 L863.0,376.0 L862.0,376.0 L861.0,376.1 L860.0,376.1 L859.0,376.1 L858.0,376.1 L857.0,376.1 L856.0,376.1 L855.0,376.1 L854.0,376.1 L853.0,376.1 L852.0,376.1 L851.0,376.1 L850.0,376.1 L849.0,376.1 L848.0,376.2 L847.0,376.2 L846.0,376.2 L845.0,376.2 L844.0,376.2 L843.0,376.2 L842.0,376.2 L841.0,376.2 L840.0,376.2 L839.0,376.2 L838.0,376.2 L837.0,376.2 L836.0,376.3 L835.0,376.3 L834.0,376.3 L833.0,376.3 L832.0,376.3 L831.0,376.3 L830.0,376.3 L829.0,376.3 L828.0,376.3 L827.0,376.3 L826.0,376.3 L825.0,376.3 L824.0,376.3 L823.0,376.4 L822.0,376.4 L821.0,376.4 L820.0,376.4 L819.0,376.4 L818.0,376.4 L817.0,376.4 L816.0,376.4 L815.0,376.4 L814.0,376.4 L813.0,376.4 L812.0,376.4 L811.0,376.5 L810.0,376.5 L809.0,376.5 L808.0,376.5 L807.0,376.5 L806.0,376.5 L805.0,376.5 L804.0,376.4 L803.0,376.3 L802.0,376.0 L801.0,375.6 L800.0,375.1 L799.0,374.5 L798.0,373.9 L797.0,373.1 L796.0,372.3 L795.0,371.3 L794.0,371.3 L793.0,371.3 L792.0,371.3 L791.0,371.3 L790.0,371.3 Z" fill="#fffaf2" stroke="#f5a031" stroke-width="0.9" stroke-linejoin="round"/>
<g fill="#fff" stroke="#f6a63c" stroke-width="0.8">
<ellipse cx="797.4" cy="363.4" rx="2.0" ry="0.8"/><ellipse cx="801.6" cy="361.5" rx="2.3" ry="1.3"/><ellipse cx="806.4" cy="361.1" rx="2.3" ry="1.4"/><ellipse cx="811.3" cy="361.1" rx="2.3" ry="1.4"/><ellipse cx="816.2" cy="361.1" rx="2.3" ry="1.4"/><ellipse cx="821.1" cy="361.1" rx="2.3" ry="1.3"/><ellipse cx="826.0" cy="361.1" rx="2.3" ry="1.3"/><ellipse cx="830.9" cy="361.2" rx="2.3" ry="1.3"/><ellipse cx="835.8" cy="361.2" rx="2.3" ry="1.3"/><ellipse cx="840.6" cy="361.2" rx="2.3" ry="1.3"/><ellipse cx="845.5" cy="361.2" rx="2.3" ry="1.3"/><ellipse cx="850.4" cy="361.3" rx="2.3" ry="1.3"/><ellipse cx="855.2" cy="361.3" rx="2.3" ry="1.3"/><ellipse cx="860.0" cy="361.3" rx="2.3" ry="1.3"/><ellipse cx="864.9" cy="361.4" rx="2.3" ry="1.3"/><ellipse cx="869.7" cy="361.1" rx="2.3" ry="1.4"/><ellipse cx="874.6" cy="361.6" rx="2.3" ry="1.2"/><ellipse cx="879.3" cy="362.5" rx="2.1" ry="1.0"/><ellipse cx="883.8" cy="363.8" rx="1.9" ry="0.7"/>
<ellipse cx="799.6" cy="364.8" rx="2.0" ry="1.2"/><ellipse cx="803.8" cy="364.2" rx="2.1" ry="1.5"/><ellipse cx="808.3" cy="364.2" rx="2.1" ry="1.5"/><ellipse cx="812.8" cy="364.2" rx="2.1" ry="1.5"/><ellipse cx="817.3" cy="364.2" rx="2.1" ry="1.5"/><ellipse cx="821.8" cy="364.2" rx="2.1" ry="1.5"/><ellipse cx="826.3" cy="364.2" rx="2.1" ry="1.5"/><ellipse cx="830.8" cy="364.2" rx="2.1" ry="1.5"/><ellipse cx="835.3" cy="364.3" rx="2.1" ry="1.5"/><ellipse cx="839.8" cy="364.3" rx="2.1" ry="1.5"/><ellipse cx="844.2" cy="364.3" rx="2.1" ry="1.5"/><ellipse cx="848.7" cy="364.3" rx="2.1" ry="1.5"/><ellipse cx="853.1" cy="364.3" rx="2.1" ry="1.5"/><ellipse cx="857.6" cy="364.3" rx="2.1" ry="1.5"/><ellipse cx="862.0" cy="364.3" rx="2.1" ry="1.5"/><ellipse cx="866.4" cy="364.4" rx="2.1" ry="1.5"/><ellipse cx="870.9" cy="364.2" rx="2.1" ry="1.5"/><ellipse cx="875.4" cy="364.5" rx="2.0" ry="1.4"/><ellipse cx="879.7" cy="365.0" rx="1.9" ry="1.2"/><ellipse cx="883.8" cy="365.6" rx="1.8" ry="0.9"/>
<ellipse cx="797.4" cy="367.6" rx="1.8" ry="1.0"/><ellipse cx="801.3" cy="367.6" rx="2.1" ry="1.5"/><ellipse cx="805.7" cy="367.6" rx="2.1" ry="1.6"/><ellipse cx="810.2" cy="367.6" rx="2.1" ry="1.6"/><ellipse cx="814.7" cy="367.6" rx="2.1" ry="1.6"/><ellipse cx="819.2" cy="367.6" rx="2.1" ry="1.6"/><ellipse cx="823.7" cy="367.6" rx="2.1" ry="1.6"/><ellipse cx="828.1" cy="367.6" rx="2.1" ry="1.6"/><ellipse cx="832.6" cy="367.6" rx="2.1" ry="1.6"/><ellipse cx="837.1" cy="367.6" rx="2.1" ry="1.6"/><ellipse cx="841.6" cy="367.6" rx="2.1" ry="1.6"/><ellipse cx="846.0" cy="367.6" rx="2.1" ry="1.6"/><ellipse cx="850.5" cy="367.6" rx="2.1" ry="1.6"/><ellipse cx="854.9" cy="367.6" rx="2.1" ry="1.6"/><ellipse cx="859.4" cy="367.6" rx="2.1" ry="1.6"/><ellipse cx="863.8" cy="367.6" rx="2.1" ry="1.6"/><ellipse cx="868.2" cy="367.6" rx="2.1" ry="1.6"/><ellipse cx="872.7" cy="367.6" rx="2.1" ry="1.6"/><ellipse cx="877.2" cy="367.6" rx="2.0" ry="1.4"/><ellipse cx="881.4" cy="367.6" rx="1.9" ry="1.1"/><ellipse cx="885.4" cy="367.6" rx="1.7" ry="0.7"/>
<ellipse cx="799.6" cy="370.4" rx="2.0" ry="1.2"/><ellipse cx="803.8" cy="371.0" rx="2.1" ry="1.5"/><ellipse cx="808.3" cy="371.0" rx="2.1" ry="1.5"/><ellipse cx="812.8" cy="371.0" rx="2.1" ry="1.5"/><ellipse cx="817.3" cy="371.0" rx="2.1" ry="1.5"/><ellipse cx="821.8" cy="371.0" rx="2.1" ry="1.5"/><ellipse cx="826.3" cy="371.0" rx="2.1" ry="1.5"/><ellipse cx="830.8" cy="371.0" rx="2.1" ry="1.5"/><ellipse cx="835.3" cy="370.9" rx="2.1" ry="1.5"/><ellipse cx="839.8" cy="370.9" rx="2.1" ry="1.5"/><ellipse cx="844.2" cy="370.9" rx="2.1" ry="1.5"/><ellipse cx="848.7" cy="370.9" rx="2.1" ry="1.5"/><ellipse cx="853.1" cy="370.9" rx="2.1" ry="1.5"/><ellipse cx="857.6" cy="370.9" rx="2.1" ry="1.5"/><ellipse cx="862.0" cy="370.9" rx="2.1" ry="1.5"/><ellipse cx="866.4" cy="370.8" rx="2.1" ry="1.5"/><ellipse cx="870.9" cy="371.0" rx="2.1" ry="1.5"/><ellipse cx="875.4" cy="370.7" rx="2.0" ry="1.4"/><ellipse cx="879.7" cy="370.2" rx="1.9" ry="1.2"/><ellipse cx="883.8" cy="369.6" rx="1.8" ry="0.9"/>
<ellipse cx="797.4" cy="371.8" rx="2.0" ry="0.8"/><ellipse cx="801.6" cy="373.7" rx="2.3" ry="1.3"/><ellipse cx="806.4" cy="374.1" rx="2.3" ry="1.4"/><ellipse cx="811.3" cy="374.1" rx="2.3" ry="1.4"/><ellipse cx="816.2" cy="374.1" rx="2.3" ry="1.4"/><ellipse cx="821.1" cy="374.1" rx="2.3" ry="1.3"/><ellipse cx="826.0" cy="374.1" rx="2.3" ry="1.3"/><ellipse cx="830.9" cy="374.0" rx="2.3" ry="1.3"/><ellipse cx="835.8" cy="374.0" rx="2.3" ry="1.3"/><ellipse cx="840.6" cy="374.0" rx="2.3" ry="1.3"/><ellipse cx="845.5" cy="374.0" rx="2.3" ry="1.3"/><ellipse cx="850.4" cy="373.9" rx="2.3" ry="1.3"/><ellipse cx="855.2" cy="373.9" rx="2.3" ry="1.3"/><ellipse cx="860.0" cy="373.9" rx="2.3" ry="1.3"/><ellipse cx="864.9" cy="373.8" rx="2.3" ry="1.3"/><ellipse cx="869.7" cy="374.1" rx="2.3" ry="1.4"/><ellipse cx="874.6" cy="373.6" rx="2.3" ry="1.2"/><ellipse cx="879.3" cy="372.7" rx="2.1" ry="1.0"/><ellipse cx="883.8" cy="371.4" rx="1.9" ry="0.7"/>
</g>
<path d="M780.3,393.9 L781.3,393.9 L782.3,393.9 L783.3,393.9 L784.3,393.9 L785.3,393.9 L786.3,393.2 L787.3,391.9 L788.3,390.6 L789.3,389.5 L790.3,388.5 L791.3,387.5 L792.3,386.7 L793.3,385.9 L794.3,385.3 L795.3,384.8 L796.3,384.5 L797.3,384.2 L798.3,384.1 L799.3,384.1 L800.3,384.1 L801.3,384.1 L802.3,384.1 L803.3,384.1 L804.3,384.1 L805.3,384.1 L806.3,384.1 L807.3,384.1 L808.3,384.1 L809.3,384.1 L810.3,384.0 L811.3,384.0 L812.3,384.0 L813.3,384.0 L814.3,384.0 L815.3,384.0 L816.3,384.0 L817.3,384.0 L818.3,384.0 L819.3,384.0 L820.3,384.0 L821.3,384.0 L822.3,384.0 L823.3,383.9 L824.3,383.9 L825.3,383.9 L826.3,383.9 L827.3,383.9 L828.3,383.9 L829.3,383.9 L830.3,383.9 L831.3,383.9 L832.3,383.9 L833.3,383.9 L834.3,383.9 L835.3,383.9 L836.3,383.9 L837.3,383.8 L838.3,383.8 L839.3,383.8 L840.3,383.8 L841.3,383.8 L842.3,383.8 L843.3,383.8 L844.3,383.8 L845.3,383.8 L846.3,383.8 L847.3,383.8 L848.3,383.8 L849.3,383.8 L850.3,383.8 L851.3,383.7 L852.3,383.7 L853.3,383.7 L854.3,383.7 L855.3,383.7 L856.3,383.7 L857.3,383.7 L858.3,383.7 L859.3,383.7 L860.3,383.7 L861.3,383.7 L862.3,383.7 L863.3,383.7 L864.3,383.7 L865.3,383.6 L866.3,383.6 L867.3,383.6 L868.3,383.6 L869.3,383.6 L870.3,383.6 L871.3,383.6 L872.3,383.6 L873.3,383.6 L874.3,383.6 L875.3,383.6 L876.3,383.1 L877.3,383.1 L878.3,383.2 L879.3,383.3 L880.3,383.4 L881.3,383.6 L882.3,383.8 L883.3,384.1 L884.3,384.3 L885.3,384.7 L886.3,385.0 L887.3,385.4 L888.3,385.8 L889.3,386.3 L890.3,386.8 L891.3,387.4 L892.3,388.0 L893.3,388.6 L894.3,389.3 L895.3,390.0 L896.3,390.8 L897.3,391.7 L898.3,392.6 L899.3,393.6 L900.3,394.7 L901.3,396.0 L902.3,397.5 L903.4,398.6 L902.3,399.7 L901.3,401.2 L900.3,402.5 L899.3,403.7 L898.3,404.7 L897.3,405.7 L896.3,406.6 L895.3,407.4 L894.3,408.1 L893.3,408.9 L892.3,409.5 L891.3,410.2 L890.3,410.7 L889.3,411.3 L888.3,411.8 L887.3,412.2 L886.3,412.6 L885.3,413.0 L884.3,413.4 L883.3,413.7 L882.3,413.9 L881.3,414.2 L880.3,414.4 L879.3,414.5 L878.3,414.7 L877.3,414.8 L876.3,414.8 L875.3,414.4 L874.3,414.4 L873.3,414.4 L872.3,414.4 L871.3,414.5 L870.3,414.5 L869.3,414.5 L868.3,414.5 L867.3,414.5 L866.3,414.6 L865.3,414.6 L864.3,414.6 L863.3,414.6 L862.3,414.6 L861.3,414.7 L860.3,414.7 L859.3,414.7 L858.3,414.7 L857.3,414.7 L856.3,414.8 L855.3,414.8 L854.3,414.8 L853.3,414.8 L852.3,414.8 L851.3,414.9 L850.3,414.9 L849.3,414.9 L848.3,414.9 L847.3,414.9 L846.3,415.0 L845.3,415.0 L844.3,415.0 L843.3,415.0 L842.3,415.0 L841.3,415.1 L840.3,415.1 L839.3,415.1 L838.3,415.1 L837.3,415.1 L836.3,415.2 L835.3,415.2 L834.3,415.2 L833.3,415.2 L832.3,415.2 L831.3,415.3 L830.3,415.3 L829.3,415.3 L828.3,415.3 L827.3,415.3 L826.3,415.4 L825.3,415.4 L824.3,415.4 L823.3,415.4 L822.3,415.4 L821.3,415.5 L820.3,415.5 L819.3,415.5 L818.3,415.5 L817.3,415.5 L816.3,415.6 L815.3,415.6 L814.3,415.6 L813.3,415.6 L812.3,415.6 L811.3,415.7 L810.3,415.7 L809.3,415.7 L808.3,415.7 L807.3,415.7 L806.3,415.8 L805.3,415.8 L804.3,415.8 L803.3,415.8 L802.3,415.9 L801.3,415.9 L800.3,415.9 L799.3,415.9 L798.3,415.9 L797.3,415.9 L796.3,415.7 L795.3,415.3 L794.3,414.9 L793.3,414.3 L792.3,413.6 L791.3,412.7 L790.3,411.8 L789.3,410.8 L788.3,409.7 L787.3,408.5 L786.3,407.1 L785.3,406.5 L784.3,406.5 L783.3,406.5 L782.3,406.5 L781.3,406.5 L780.3,406.5 Z" fill="#fffaf2" stroke="#f5a031" stroke-width="0.9" stroke-linejoin="round"/>
<g fill="#fff" stroke="#f6a63c" stroke-width="0.8">
<ellipse cx="788.3" cy="392.5" rx="2.6" ry="1.1"/><ellipse cx="793.7" cy="388.4" rx="3.0" ry="1.8"/><ellipse cx="799.9" cy="387.1" rx="3.1" ry="2.0"/><ellipse cx="806.3" cy="387.0" rx="3.1" ry="2.0"/><ellipse cx="812.7" cy="387.0" rx="3.1" ry="2.0"/><ellipse cx="819.1" cy="386.9" rx="3.1" ry="2.0"/><ellipse cx="825.5" cy="386.8" rx="3.1" ry="2.0"/><ellipse cx="831.9" cy="386.8" rx="3.1" ry="2.0"/><ellipse cx="838.3" cy="386.7" rx="3.1" ry="2.0"/><ellipse cx="844.6" cy="386.7" rx="3.1" ry="2.0"/><ellipse cx="851.0" cy="386.6" rx="3.1" ry="2.0"/><ellipse cx="857.4" cy="386.6" rx="3.1" ry="2.0"/><ellipse cx="863.7" cy="386.5" rx="3.1" ry="2.0"/><ellipse cx="870.1" cy="386.5" rx="3.0" ry="1.9"/><ellipse cx="876.4" cy="386.1" rx="3.1" ry="2.0"/><ellipse cx="882.8" cy="386.7" rx="3.0" ry="1.9"/><ellipse cx="889.1" cy="388.6" rx="2.8" ry="1.6"/><ellipse cx="895.0" cy="391.6" rx="2.5" ry="1.1"/>
<ellipse cx="791.6" cy="393.7" rx="2.9" ry="2.2"/><ellipse cx="797.7" cy="392.1" rx="3.2" ry="2.7"/><ellipse cx="804.3" cy="392.0" rx="3.2" ry="2.7"/><ellipse cx="810.9" cy="392.0" rx="3.2" ry="2.7"/><ellipse cx="817.5" cy="391.9" rx="3.2" ry="2.7"/><ellipse cx="824.1" cy="391.8" rx="3.2" ry="2.7"/><ellipse cx="830.7" cy="391.7" rx="3.2" ry="2.7"/><ellipse cx="837.3" cy="391.7" rx="3.2" ry="2.7"/><ellipse cx="843.9" cy="391.6" rx="3.2" ry="2.7"/><ellipse cx="850.4" cy="391.5" rx="3.2" ry="2.7"/><ellipse cx="857.0" cy="391.5" rx="3.2" ry="2.7"/><ellipse cx="863.6" cy="391.4" rx="3.2" ry="2.7"/><ellipse cx="870.1" cy="391.3" rx="3.1" ry="2.7"/><ellipse cx="876.6" cy="391.1" rx="3.2" ry="2.7"/><ellipse cx="883.2" cy="391.5" rx="3.1" ry="2.6"/><ellipse cx="889.7" cy="392.7" rx="2.9" ry="2.1"/><ellipse cx="895.7" cy="394.6" rx="2.5" ry="1.4"/>
<ellipse cx="788.3" cy="400.2" rx="2.8" ry="2.9"/><ellipse cx="794.1" cy="400.1" rx="3.2" ry="4.6"/><ellipse cx="800.8" cy="400.0" rx="3.3" ry="4.9"/><ellipse cx="807.7" cy="399.9" rx="3.3" ry="4.9"/><ellipse cx="814.6" cy="399.8" rx="3.3" ry="4.9"/><ellipse cx="821.5" cy="399.7" rx="3.3" ry="4.9"/><ellipse cx="828.4" cy="399.6" rx="3.3" ry="4.9"/><ellipse cx="835.3" cy="399.5" rx="3.3" ry="4.9"/><ellipse cx="842.2" cy="399.4" rx="3.3" ry="4.9"/><ellipse cx="849.1" cy="399.3" rx="3.3" ry="4.8"/><ellipse cx="855.9" cy="399.2" rx="3.3" ry="4.8"/><ellipse cx="862.8" cy="399.1" rx="3.3" ry="4.8"/><ellipse cx="869.6" cy="399.1" rx="3.3" ry="4.8"/><ellipse cx="876.5" cy="399.0" rx="3.3" ry="4.9"/><ellipse cx="883.4" cy="398.9" rx="3.2" ry="4.6"/><ellipse cx="890.1" cy="398.8" rx="3.0" ry="3.7"/><ellipse cx="896.4" cy="398.7" rx="2.6" ry="2.3"/>
<ellipse cx="791.6" cy="406.5" rx="2.9" ry="2.2"/><ellipse cx="797.7" cy="407.9" rx="3.2" ry="2.7"/><ellipse cx="804.3" cy="407.8" rx="3.2" ry="2.7"/><ellipse cx="810.9" cy="407.8" rx="3.2" ry="2.7"/><ellipse cx="817.5" cy="407.7" rx="3.2" ry="2.7"/><ellipse cx="824.1" cy="407.5" rx="3.2" ry="2.7"/><ellipse cx="830.7" cy="407.4" rx="3.2" ry="2.7"/><ellipse cx="837.3" cy="407.3" rx="3.2" ry="2.7"/><ellipse cx="843.9" cy="407.2" rx="3.2" ry="2.7"/><ellipse cx="850.4" cy="407.1" rx="3.2" ry="2.7"/><ellipse cx="857.0" cy="407.0" rx="3.2" ry="2.7"/><ellipse cx="863.6" cy="406.9" rx="3.2" ry="2.7"/><ellipse cx="870.1" cy="406.8" rx="3.1" ry="2.7"/><ellipse cx="876.6" cy="406.9" rx="3.2" ry="2.7"/><ellipse cx="883.2" cy="406.3" rx="3.1" ry="2.6"/><ellipse cx="889.7" cy="404.9" rx="2.9" ry="2.1"/><ellipse cx="895.7" cy="402.8" rx="2.5" ry="1.4"/>
<ellipse cx="788.3" cy="407.8" rx="2.6" ry="1.1"/><ellipse cx="793.7" cy="411.8" rx="3.0" ry="1.8"/><ellipse cx="799.9" cy="412.9" rx="3.1" ry="2.0"/><ellipse cx="806.3" cy="412.8" rx="3.1" ry="2.0"/><ellipse cx="812.7" cy="412.7" rx="3.1" ry="2.0"/><ellipse cx="819.1" cy="412.6" rx="3.1" ry="2.0"/><ellipse cx="825.5" cy="412.5" rx="3.1" ry="2.0"/><ellipse cx="831.9" cy="412.4" rx="3.1" ry="2.0"/><ellipse cx="838.3" cy="412.2" rx="3.1" ry="2.0"/><ellipse cx="844.6" cy="412.1" rx="3.1" ry="2.0"/><ellipse cx="851.0" cy="412.0" rx="3.1" ry="2.0"/><ellipse cx="857.4" cy="411.9" rx="3.1" ry="2.0"/><ellipse cx="863.7" cy="411.7" rx="3.1" ry="2.0"/><ellipse cx="870.1" cy="411.6" rx="3.0" ry="1.9"/><ellipse cx="876.4" cy="411.8" rx="3.1" ry="2.0"/><ellipse cx="882.8" cy="411.0" rx="3.0" ry="1.9"/><ellipse cx="889.1" cy="409.0" rx="2.8" ry="1.6"/><ellipse cx="895.0" cy="405.8" rx="2.5" ry="1.1"/>
</g>
<g fill="#a8a9ad">
<path d="M663.3,599.5 L664.5,557.1 L666.2,550.4 L667.9,549.8 L669.6,549.2 L671.3,548.7 L673.0,550.0 L674.7,552.5 L676.4,554.7 L678.1,555.9 L679.8,557.0 L681.5,558.1 L683.2,559.3 L684.9,560.4 L686.6,561.5 L688.3,562.6 L690.0,563.5 L691.7,564.3 L693.4,565.2 L695.1,565.8 L696.8,566.4 L698.5,567.0 L700.2,567.5 L701.9,567.5 L703.6,567.5 L705.3,567.5 L707.0,567.3 L708.7,567.0 L710.4,566.7 L712.1,566.5 L713.8,567.1 L715.5,567.6 L717.2,568.2 L718.9,568.3 L720.6,568.0 L722.3,567.7 L724.0,567.4 L725.7,566.6 L727.4,565.7 L729.1,564.9 L730.8,565.0 L732.5,566.1 L734.2,567.3 L735.9,568.4 L737.6,569.7 L739.3,570.9 L741.0,572.3 L742.7,573.7 L744.4,575.1 L746.1,576.5 L747.8,576.5 L749.5,576.5 L751.2,571.6 L752.9,568.5 L754.6,568.5 L756.3,568.5 L758.0,568.5 L759.7,568.5 L761.4,568.9 L763.1,569.5 L764.8,570.1 L766.5,570.5 L768.2,570.8 L769.9,571.1 L771.6,571.4 L773.3,571.5 L775.0,571.5 L776.7,571.5 L778.4,571.6 L780.1,572.2 L781.8,572.7 L783.5,573.3 L785.2,573.9 L786.9,574.4 L788.6,575.0 L790.3,575.4 L792.0,575.1 L793.7,574.8 L795.4,574.5 L797.1,574.6 L798.8,574.9 L800.5,575.2 L802.2,575.7 L803.9,577.4 L805.6,579.1 L807.3,582.5 L809.0,586.5 L810.7,589.9 L812.4,592.9 L814.1,594.9 L815.8,596.2 L817.5,594.8 L819.2,592.8 L820.9,590.6 L822.6,585.1 L824.3,579.9 L826.0,577.1 L827.7,575.5 L829.4,575.5 L831.1,574.6 L832.8,573.3 L834.5,573.0 L836.2,574.7 L837.9,576.4 L839.6,576.0 L841.3,575.6 L843.0,573.1 L844.7,569.1 L846.4,568.5 L848.1,568.5 L849.8,569.1 L851.5,569.6 L853.2,570.2 L854.9,570.2 L856.6,569.8 L858.3,569.6 L860.0,570.5 L861.7,571.3 L863.4,571.0 L865.1,570.4 L866.8,569.8 L868.5,569.5 L870.2,569.5 L871.9,569.5 L873.6,569.5 L875.3,569.5 L877.0,569.5 L878.7,569.5 L880.4,569.4 L882.1,569.1 L883.8,568.8 L885.5,568.5 L887.2,568.2 L888.9,568.0 L890.6,567.7 L892.3,567.6 L894.0,568.5 L895.7,569.3 L897.4,570.2 L899.1,570.6 L900.8,570.9 L902.5,571.2 L904.2,571.4 L905.9,570.8 L907.6,570.2 L909.3,569.7 L911.0,569.6 L912.7,569.9 L914.4,570.2 L916.1,570.4 L917.8,569.8 L919.5,569.3 L921.2,568.7 L922.9,568.6 L924.6,568.9 L926.3,569.2 L928.0,569.5 L929.7,570.6 L931.4,571.7 L933.1,572.9 L934.8,573.7 L936.5,574.1 L938.2,574.5 L939.9,574.8 L941.6,575.1 L943.3,575.3 L945.0,574.2 L946.7,572.1 L948.4,570.4 L950.1,570.1 L951.8,569.8 L953.5,569.5 L955.2,569.7 L956.9,569.9 L958.6,570.2 L960.3,570.5 L962.0,570.5 L963.7,570.5 L965.4,570.5 L967.1,569.7 L968.8,568.6 L970.5,567.4 L972.2,566.4 L973.9,566.1 L975.6,565.8 L977.3,565.6 L979.0,565.5 L980.7,565.5 L982.4,565.5 L984.1,565.4 L985.8,565.1 L987.5,564.9 L989.2,564.6 L990.9,564.1 L992.6,563.6 L994.3,563.0 L996.0,562.4 L997.7,562.2 L999.4,561.9 L1001.1,561.6 L1002.8,561.5 L1004.5,561.5 L1006.2,561.5 L1007.9,561.5 L1009.6,563.1 L1010.9,599.5 Z"/>
<circle cx="664.5" cy="557.1" r="2.45"/><circle cx="666.2" cy="550.4" r="2.45"/><circle cx="667.9" cy="549.8" r="2.45"/><circle cx="669.6" cy="549.2" r="2.45"/><circle cx="671.3" cy="548.7" r="2.45"/><circle cx="673.0" cy="550.0" r="2.45"/><circle cx="674.7" cy="552.5" r="2.45"/><circle cx="676.4" cy="554.7" r="2.45"/><circle cx="678.1" cy="555.9" r="2.45"/><circle cx="679.8" cy="557.0" r="2.45"/><circle cx="681.5" cy="558.1" r="2.45"/><circle cx="683.2" cy="559.3" r="2.45"/><circle cx="684.9" cy="560.4" r="2.45"/><circle cx="686.6" cy="561.5" r="2.45"/><circle cx="688.3" cy="562.6" r="2.45"/><circle cx="690.0" cy="563.5" r="2.45"/><circle cx="691.7" cy="564.3" r="2.45"/><circle cx="693.4" cy="565.2" r="2.45"/><circle cx="695.1" cy="565.8" r="2.45"/><circle cx="696.8" cy="566.4" r="2.45"/><circle cx="698.5" cy="567.0" r="2.45"/><circle cx="700.2" cy="567.5" r="2.45"/><circle cx="701.9" cy="567.5" r="2.45"/><circle cx="703.6" cy="567.5" r="2.45"/><circle cx="705.3" cy="567.5" r="2.45"/><circle cx="707.0" cy="567.3" r="2.45"/><circle cx="708.7" cy="567.0" r="2.45"/><circle cx="710.4" cy="566.7" r="2.45"/><circle cx="712.1" cy="566.5" r="2.45"/><circle cx="713.8" cy="567.1" r="2.45"/><circle cx="715.5" cy="567.6" r="2.45"/><circle cx="717.2" cy="568.2" r="2.45"/><circle cx="718.9" cy="568.3" r="2.45"/><circle cx="720.6" cy="568.0" r="2.45"/><circle cx="722.3" cy="567.7" r="2.45"/><circle cx="724.0" cy="567.4" r="2.45"/><circle cx="725.7" cy="566.6" r="2.45"/><circle cx="727.4" cy="565.7" r="2.45"/><circle cx="729.1" cy="564.9" r="2.45"/><circle cx="730.8" cy="565.0" r="2.45"/><circle cx="732.5" cy="566.1" r="2.45"/><circle cx="734.2" cy="567.3" r="2.45"/><circle cx="735.9" cy="568.4" r="2.45"/><circle cx="737.6" cy="569.7" r="2.45"/><circle cx="739.3" cy="570.9" r="2.45"/><circle cx="741.0" cy="572.3" r="2.45"/><circle cx="742.7" cy="573.7" r="2.45"/><circle cx="744.4" cy="575.1" r="2.45"/><circle cx="746.1" cy="576.5" r="2.45"/><circle cx="747.8" cy="576.5" r="2.45"/><circle cx="749.5" cy="576.5" r="2.45"/><circle cx="751.2" cy="571.6" r="2.45"/><circle cx="752.9" cy="568.5" r="2.45"/><circle cx="754.6" cy="568.5" r="2.45"/><circle cx="756.3" cy="568.5" r="2.45"/><circle cx="758.0" cy="568.5" r="2.45"/><circle cx="759.7" cy="568.5" r="2.45"/><circle cx="761.4" cy="568.9" r="2.45"/><circle cx="763.1" cy="569.5" r="2.45"/><circle cx="764.8" cy="570.1" r="2.45"/><circle cx="766.5" cy="570.5" r="2.45"/><circle cx="768.2" cy="570.8" r="2.45"/><circle cx="769.9" cy="571.1" r="2.45"/><circle cx="771.6" cy="571.4" r="2.45"/><circle cx="773.3" cy="571.5" r="2.45"/><circle cx="775.0" cy="571.5" r="2.45"/><circle cx="776.7" cy="571.5" r="2.45"/><circle cx="778.4" cy="571.6" r="2.45"/><circle cx="780.1" cy="572.2" r="2.45"/><circle cx="781.8" cy="572.7" r="2.45"/><circle cx="783.5" cy="573.3" r="2.45"/><circle cx="785.2" cy="573.9" r="2.45"/><circle cx="786.9" cy="574.4" r="2.45"/><circle cx="788.6" cy="575.0" r="2.45"/><circle cx="790.3" cy="575.4" r="2.45"/><circle cx="792.0" cy="575.1" r="2.45"/><circle cx="793.7" cy="574.8" r="2.45"/><circle cx="795.4" cy="574.5" r="2.45"/><circle cx="797.1" cy="574.6" r="2.45"/><circle cx="798.8" cy="574.9" r="2.45"/><circle cx="800.5" cy="575.2" r="2.45"/><circle cx="802.2" cy="575.7" r="2.45"/><circle cx="803.9" cy="577.4" r="2.45"/><circle cx="805.6" cy="579.1" r="2.45"/><circle cx="807.3" cy="582.5" r="2.45"/><circle cx="809.0" cy="586.5" r="2.45"/><circle cx="810.7" cy="589.9" r="2.45"/><circle cx="812.4" cy="592.9" r="2.45"/><circle cx="814.1" cy="594.9" r="2.45"/><circle cx="815.8" cy="596.2" r="2.45"/><circle cx="817.5" cy="594.8" r="2.45"/><circle cx="819.2" cy="592.8" r="2.45"/><circle cx="820.9" cy="590.6" r="2.45"/><circle cx="822.6" cy="585.1" r="2.45"/><circle cx="824.3" cy="579.9" r="2.45"/><circle cx="826.0" cy="577.1" r="2.45"/><circle cx="827.7" cy="575.5" r="2.45"/><circle cx="829.4" cy="575.5" r="2.45"/><circle cx="831.1" cy="574.6" r="2.45"/><circle cx="832.8" cy="573.3" r="2.45"/><circle cx="834.5" cy="573.0" r="2.45"/><circle cx="836.2" cy="574.7" r="2.45"/><circle cx="837.9" cy="576.4" r="2.45"/><circle cx="839.6" cy="576.0" r="2.45"/><circle cx="841.3" cy="575.6" r="2.45"/><circle cx="843.0" cy="573.1" r="2.45"/><circle cx="844.7" cy="569.1" r="2.45"/><circle cx="846.4" cy="568.5" r="2.45"/><circle cx="848.1" cy="568.5" r="2.45"/><circle cx="849.8" cy="569.1" r="2.45"/><circle cx="851.5" cy="569.6" r="2.45"/><circle cx="853.2" cy="570.2" r="2.45"/><circle cx="854.9" cy="570.2" r="2.45"/><circle cx="856.6" cy="569.8" r="2.45"/><circle cx="858.3" cy="569.6" r="2.45"/><circle cx="860.0" cy="570.5" r="2.45"/><circle cx="861.7" cy="571.3" r="2.45"/><circle cx="863.4" cy="571.0" r="2.45"/><circle cx="865.1" cy="570.4" r="2.45"/><circle cx="866.8" cy="569.8" r="2.45"/><circle cx="868.5" cy="569.5" r="2.45"/><circle cx="870.2" cy="569.5" r="2.45"/><circle cx="871.9" cy="569.5" r="2.45"/><circle cx="873.6" cy="569.5" r="2.45"/><circle cx="875.3" cy="569.5" r="2.45"/><circle cx="877.0" cy="569.5" r="2.45"/><circle cx="878.7" cy="569.5" r="2.45"/><circle cx="880.4" cy="569.4" r="2.45"/><circle cx="882.1" cy="569.1" r="2.45"/><circle cx="883.8" cy="568.8" r="2.45"/><circle cx="885.5" cy="568.5" r="2.45"/><circle cx="887.2" cy="568.2" r="2.45"/><circle cx="888.9" cy="568.0" r="2.45"/><circle cx="890.6" cy="567.7" r="2.45"/><circle cx="892.3" cy="567.6" r="2.45"/><circle cx="894.0" cy="568.5" r="2.45"/><circle cx="895.7" cy="569.3" r="2.45"/><circle cx="897.4" cy="570.2" r="2.45"/><circle cx="899.1" cy="570.6" r="2.45"/><circle cx="900.8" cy="570.9" r="2.45"/><circle cx="902.5" cy="571.2" r="2.45"/><circle cx="904.2" cy="571.4" r="2.45"/><circle cx="905.9" cy="570.8" r="2.45"/><circle cx="907.6" cy="570.2" r="2.45"/><circle cx="909.3" cy="569.7" r="2.45"/><circle cx="911.0" cy="569.6" r="2.45"/><circle cx="912.7" cy="569.9" r="2.45"/><circle cx="914.4" cy="570.2" r="2.45"/><circle cx="916.1" cy="570.4" r="2.45"/><circle cx="917.8" cy="569.8" r="2.45"/><circle cx="919.5" cy="569.3" r="2.45"/><circle cx="921.2" cy="568.7" r="2.45"/><circle cx="922.9" cy="568.6" r="2.45"/><circle cx="924.6" cy="568.9" r="2.45"/><circle cx="926.3" cy="569.2" r="2.45"/><circle cx="928.0" cy="569.5" r="2.45"/><circle cx="929.7" cy="570.6" r="2.45"/><circle cx="931.4" cy="571.7" r="2.45"/><circle cx="933.1" cy="572.9" r="2.45"/><circle cx="934.8" cy="573.7" r="2.45"/><circle cx="936.5" cy="574.1" r="2.45"/><circle cx="938.2" cy="574.5" r="2.45"/><circle cx="939.9" cy="574.8" r="2.45"/><circle cx="941.6" cy="575.1" r="2.45"/><circle cx="943.3" cy="575.3" r="2.45"/><circle cx="945.0" cy="574.2" r="2.45"/><circle cx="946.7" cy="572.1" r="2.45"/><circle cx="948.4" cy="570.4" r="2.45"/><circle cx="950.1" cy="570.1" r="2.45"/><circle cx="951.8" cy="569.8" r="2.45"/><circle cx="953.5" cy="569.5" r="2.45"/><circle cx="955.2" cy="569.7" r="2.45"/><circle cx="956.9" cy="569.9" r="2.45"/><circle cx="958.6" cy="570.2" r="2.45"/><circle cx="960.3" cy="570.5" r="2.45"/><circle cx="962.0" cy="570.5" r="2.45"/><circle cx="963.7" cy="570.5" r="2.45"/><circle cx="965.4" cy="570.5" r="2.45"/><circle cx="967.1" cy="569.7" r="2.45"/><circle cx="968.8" cy="568.6" r="2.45"/><circle cx="970.5" cy="567.4" r="2.45"/><circle cx="972.2" cy="566.4" r="2.45"/><circle cx="973.9" cy="566.1" r="2.45"/><circle cx="975.6" cy="565.8" r="2.45"/><circle cx="977.3" cy="565.6" r="2.45"/><circle cx="979.0" cy="565.5" r="2.45"/><circle cx="980.7" cy="565.5" r="2.45"/><circle cx="982.4" cy="565.5" r="2.45"/><circle cx="984.1" cy="565.4" r="2.45"/><circle cx="985.8" cy="565.1" r="2.45"/><circle cx="987.5" cy="564.9" r="2.45"/><circle cx="989.2" cy="564.6" r="2.45"/><circle cx="990.9" cy="564.1" r="2.45"/><circle cx="992.6" cy="563.6" r="2.45"/><circle cx="994.3" cy="563.0" r="2.45"/><circle cx="996.0" cy="562.4" r="2.45"/><circle cx="997.7" cy="562.2" r="2.45"/><circle cx="999.4" cy="561.9" r="2.45"/><circle cx="1001.1" cy="561.6" r="2.45"/><circle cx="1002.8" cy="561.5" r="2.45"/><circle cx="1004.5" cy="561.5" r="2.45"/><circle cx="1006.2" cy="561.5" r="2.45"/><circle cx="1007.9" cy="561.5" r="2.45"/><circle cx="1009.6" cy="563.1" r="2.45"/>
<rect x="665.0" y="533.7" width="4.9" height="65.8" rx="2.45"/><rect x="669.4" y="536.6" width="4.9" height="62.9" rx="2.45"/><rect x="667.1" y="541.0" width="4.9" height="58.5" rx="2.45"/><rect x="674.1" y="541.4" width="4.9" height="58.1" rx="2.45"/><rect x="671.8" y="547.0" width="4.9" height="52.5" rx="2.45"/><rect x="679.5" y="545.2" width="4.9" height="54.3" rx="2.45"/><rect x="683.6" y="552.8" width="4.9" height="46.7" rx="2.45"/><rect x="689.3" y="546.1" width="4.9" height="53.4" rx="2.45"/><rect x="695.0" y="561.3" width="4.9" height="38.2" rx="2.45"/><rect x="700.8" y="552.8" width="4.9" height="46.7" rx="2.45"/><rect x="707.4" y="550.9" width="4.9" height="48.6" rx="2.45"/><rect x="712.2" y="557.5" width="4.9" height="42.0" rx="2.45"/><rect x="719.8" y="556.6" width="4.9" height="42.9" rx="2.45"/><rect x="723.5" y="560.0" width="4.9" height="39.5" rx="2.45"/><rect x="727.4" y="546.1" width="4.9" height="53.4" rx="2.45"/><rect x="732.1" y="556.6" width="4.9" height="42.9" rx="2.45"/><rect x="742.2" y="538.5" width="4.9" height="61.0" rx="2.45"/><rect x="750.2" y="513.8" width="4.9" height="85.7" rx="2.45"/><rect x="752.1" y="516.0" width="4.9" height="83.5" rx="2.45"/><rect x="753.9" y="520.4" width="4.9" height="79.1" rx="2.45"/><rect x="755.8" y="548.0" width="4.9" height="51.5" rx="2.45"/><rect x="759.8" y="562.3" width="4.9" height="37.2" rx="2.45"/><rect x="766.4" y="557.5" width="4.9" height="42.0" rx="2.45"/><rect x="777.8" y="563.2" width="4.9" height="36.3" rx="2.45"/><rect x="793.0" y="563.2" width="4.9" height="36.3" rx="2.45"/><rect x="800.6" y="565.1" width="4.9" height="34.4" rx="2.45"/><rect x="824.4" y="570.8" width="4.9" height="28.7" rx="2.45"/><rect x="829.5" y="568.0" width="4.9" height="31.5" rx="2.45"/><rect x="831.6" y="555.6" width="4.9" height="43.9" rx="2.45"/><rect x="843.9" y="543.3" width="4.9" height="56.2" rx="2.45"/><rect x="846.5" y="535.0" width="4.9" height="64.5" rx="2.45"/><rect x="848.6" y="527.1" width="4.9" height="72.4" rx="2.45"/><rect x="850.5" y="560.0" width="4.9" height="39.5" rx="2.45"/><rect x="855.8" y="557.5" width="4.9" height="42.0" rx="2.45"/><rect x="865.4" y="561.3" width="4.9" height="38.2" rx="2.45"/><rect x="870.5" y="563.2" width="4.9" height="36.3" rx="2.45"/><rect x="875.8" y="560.4" width="4.9" height="39.1" rx="2.45"/><rect x="880.9" y="564.2" width="4.9" height="35.3" rx="2.45"/><rect x="886.8" y="554.7" width="4.9" height="44.8" rx="2.45"/><rect x="888.9" y="556.0" width="4.9" height="43.5" rx="2.45"/><rect x="890.8" y="545.2" width="4.9" height="54.3" rx="2.45"/><rect x="906.1" y="561.0" width="4.9" height="38.5" rx="2.45"/><rect x="908.5" y="551.8" width="4.9" height="47.7" rx="2.45"/><rect x="919.9" y="556.6" width="4.9" height="42.9" rx="2.45"/><rect x="921.9" y="551.0" width="4.9" height="48.5" rx="2.45"/><rect x="923.8" y="540.4" width="4.9" height="59.1" rx="2.45"/><rect x="930.0" y="563.2" width="4.9" height="36.3" rx="2.45"/><rect x="938.4" y="555.6" width="4.9" height="43.9" rx="2.45"/><rect x="946.6" y="548.0" width="4.9" height="51.5" rx="2.45"/><rect x="948.9" y="556.0" width="4.9" height="43.5" rx="2.45"/><rect x="951.3" y="555.6" width="4.9" height="43.9" rx="2.45"/><rect x="965.9" y="562.0" width="4.9" height="37.5" rx="2.45"/><rect x="968.4" y="556.6" width="4.9" height="42.9" rx="2.45"/><rect x="971.0" y="548.0" width="4.9" height="51.5" rx="2.45"/><rect x="973.2" y="530.9" width="4.9" height="68.6" rx="2.45"/><rect x="975.1" y="542.0" width="4.9" height="57.5" rx="2.45"/><rect x="977.9" y="560.4" width="4.9" height="39.1" rx="2.45"/><rect x="980.5" y="556.0" width="4.9" height="43.5" rx="2.45"/><rect x="982.8" y="546.1" width="4.9" height="53.4" rx="2.45"/><rect x="985.9" y="560.4" width="4.9" height="39.1" rx="2.45"/><rect x="988.1" y="555.0" width="4.9" height="44.5" rx="2.45"/><rect x="990.3" y="549.0" width="4.9" height="50.5" rx="2.45"/><rect x="994.1" y="556.6" width="4.9" height="42.9" rx="2.45"/><rect x="996.1" y="553.0" width="4.9" height="46.5" rx="2.45"/><rect x="997.9" y="549.0" width="4.9" height="50.5" rx="2.45"/><rect x="1001.5" y="555.0" width="4.9" height="44.5" rx="2.45"/><rect x="1005.5" y="555.6" width="4.9" height="43.9" rx="2.45"/>
<circle cx="663.4" cy="596" r="2.6"/><circle cx="1010.6" cy="596" r="2.6"/><rect x="1008" y="560" width="5" height="38" rx="2.4"/>
<circle cx="667.5" cy="526.1" r="2.45"/><circle cx="676.6" cy="523.3" r="2.45"/><circle cx="691.8" cy="536.8" r="2.45"/><circle cx="691.8" cy="540.6" r="2.45"/><circle cx="722.3" cy="549.9" r="2.45"/><circle cx="768.9" cy="550.9" r="2.45"/><circle cx="858.3" cy="553.0" r="2.45"/><circle cx="867.9" cy="554.3" r="2.45"/><circle cx="878.3" cy="546.5" r="2.45"/><circle cx="878.3" cy="550.6" r="2.45"/><circle cx="901.5" cy="563.2" r="2.45"/><circle cx="958.6" cy="560.8" r="2.45"/><circle cx="932.5" cy="509.6" r="2.45"/><circle cx="932.5" cy="516.6" r="2.45"/><circle cx="932.5" cy="530.9" r="2.45"/><circle cx="932.5" cy="541.0" r="2.45"/><circle cx="932.5" cy="552.5" r="2.45"/><circle cx="932.5" cy="556.5" r="2.45"/><circle cx="992.8" cy="535.3" r="2.45"/><circle cx="992.8" cy="541.7" r="2.45"/><circle cx="756.4" cy="502.8" r="2.45"/><circle cx="756.4" cy="508.1" r="2.45"/><circle cx="756.4" cy="486.1" r="2.45"/><circle cx="756.4" cy="492.5" r="2.45"/><circle cx="756.4" cy="416.0" r="2.45"/><circle cx="756.4" cy="422.5" r="2.45"/><circle cx="756.4" cy="428.7" r="2.45"/><circle cx="756.4" cy="435.4" r="2.45"/><rect x="753.9" y="368.3" width="4.9" height="21.8" rx="2.5"/><rect x="753.9" y="399.5" width="4.9" height="12.2" rx="2.5"/><rect x="753.9" y="440.5" width="4.9" height="23.6" rx="2.5"/><rect x="753.9" y="470.1" width="4.9" height="8.2" rx="2.5"/></g>
<line x1="662.3" y1="357" x2="662.3" y2="603.5" stroke="#333" stroke-width="1.6"/>
<line x1="651.5" y1="600.0" x2="1017" y2="600.0" stroke="#333" stroke-width="1.8"/>
<text transform="translate(753.91,623.80) scale(0.9712,1)" font-size="20.20" font-weight="bold" fill="#1a1a1a" >Admixture mapping</text>

</g>
</svg>
</body></html>
